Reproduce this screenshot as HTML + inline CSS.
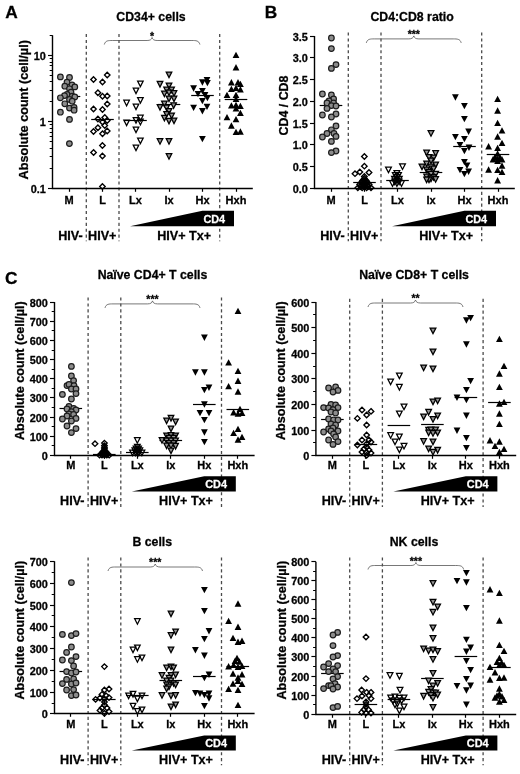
<!DOCTYPE html>
<html><head><meta charset="utf-8"><title>Figure</title>
<style>html,body{margin:0;padding:0;background:#fff}svg{display:block;will-change:transform;filter:blur(0.3px)}text{font-family:"Liberation Sans", sans-serif;stroke:#000;stroke-width:0.28px;paint-order:stroke}text.w{stroke:#fff}</style>
</head><body>
<svg width="520" height="774" viewBox="0 0 520 774">
<rect width="520" height="774" fill="#fff"/>
<text x="5.2" y="18.4" font-size="17.3" font-weight="700">A</text>
<text x="264.8" y="17.9" font-size="17.3" font-weight="700">B</text>
<text x="4.9" y="284.3" font-size="17.3" font-weight="700">C</text>
<line x1="86.3" y1="34.0" x2="86.3" y2="241.2" stroke="#4a4a4a" stroke-width="1.3" stroke-dasharray="3.1 2.8"/>
<line x1="119.0" y1="34.0" x2="119.0" y2="241.2" stroke="#4a4a4a" stroke-width="1.3" stroke-dasharray="3.1 2.8"/>
<line x1="219.7" y1="34.0" x2="219.7" y2="241.2" stroke="#4a4a4a" stroke-width="1.3" stroke-dasharray="3.1 2.8"/>
<path d="M52.5 35.3V188.5H252.8" fill="none" stroke="#000" stroke-width="1.4"/>
<line x1="48.0" y1="55.5" x2="52.5" y2="55.5" stroke="#000" stroke-width="1.15"/>
<text x="45.9" y="60.4" text-anchor="end" font-size="10.9" font-weight="700">10</text>
<line x1="48.0" y1="121.5" x2="52.5" y2="121.5" stroke="#000" stroke-width="1.15"/>
<text x="45.9" y="126.4" text-anchor="end" font-size="10.9" font-weight="700">1</text>
<line x1="48.0" y1="188.5" x2="52.5" y2="188.5" stroke="#000" stroke-width="1.15"/>
<text x="45.9" y="193.4" text-anchor="end" font-size="10.9" font-weight="700">0.1</text>
<line x1="49.7" y1="168.5" x2="52.5" y2="168.5" stroke="#000" stroke-width="1"/>
<line x1="49.7" y1="156.5" x2="52.5" y2="156.5" stroke="#000" stroke-width="1"/>
<line x1="49.7" y1="148.5" x2="52.5" y2="148.5" stroke="#000" stroke-width="1"/>
<line x1="49.7" y1="141.5" x2="52.5" y2="141.5" stroke="#000" stroke-width="1"/>
<line x1="49.7" y1="136.5" x2="52.5" y2="136.5" stroke="#000" stroke-width="1"/>
<line x1="49.7" y1="132.5" x2="52.5" y2="132.5" stroke="#000" stroke-width="1"/>
<line x1="49.7" y1="128.5" x2="52.5" y2="128.5" stroke="#000" stroke-width="1"/>
<line x1="49.7" y1="124.5" x2="52.5" y2="124.5" stroke="#000" stroke-width="1"/>
<line x1="49.7" y1="101.5" x2="52.5" y2="101.5" stroke="#000" stroke-width="1"/>
<line x1="49.7" y1="90.5" x2="52.5" y2="90.5" stroke="#000" stroke-width="1"/>
<line x1="49.7" y1="81.5" x2="52.5" y2="81.5" stroke="#000" stroke-width="1"/>
<line x1="49.7" y1="75.5" x2="52.5" y2="75.5" stroke="#000" stroke-width="1"/>
<line x1="49.7" y1="70.5" x2="52.5" y2="70.5" stroke="#000" stroke-width="1"/>
<line x1="49.7" y1="65.5" x2="52.5" y2="65.5" stroke="#000" stroke-width="1"/>
<line x1="49.7" y1="62.5" x2="52.5" y2="62.5" stroke="#000" stroke-width="1"/>
<line x1="49.7" y1="58.5" x2="52.5" y2="58.5" stroke="#000" stroke-width="1"/>
<line x1="49.7" y1="35.5" x2="52.5" y2="35.5" stroke="#000" stroke-width="1"/>
<line x1="69.5" y1="188.5" x2="69.5" y2="191.8" stroke="#000" stroke-width="1.2"/>
<text x="69.0" y="203.5" text-anchor="middle" font-size="11" font-weight="700">M</text>
<line x1="102.5" y1="188.5" x2="102.5" y2="191.8" stroke="#000" stroke-width="1.2"/>
<text x="102.5" y="203.5" text-anchor="middle" font-size="11" font-weight="700">L</text>
<line x1="135.5" y1="188.5" x2="135.5" y2="191.8" stroke="#000" stroke-width="1.2"/>
<text x="135.5" y="203.5" text-anchor="middle" font-size="11" font-weight="700">Lx</text>
<line x1="169.5" y1="188.5" x2="169.5" y2="191.8" stroke="#000" stroke-width="1.2"/>
<text x="169.0" y="203.5" text-anchor="middle" font-size="11" font-weight="700">Ix</text>
<line x1="202.5" y1="188.5" x2="202.5" y2="191.8" stroke="#000" stroke-width="1.2"/>
<text x="202.5" y="203.5" text-anchor="middle" font-size="11" font-weight="700">Hx</text>
<line x1="236.5" y1="188.5" x2="236.5" y2="191.8" stroke="#000" stroke-width="1.2"/>
<text x="236.0" y="203.5" text-anchor="middle" font-size="11" font-weight="700">Hxh</text>
<text transform="translate(28.0 109.8) rotate(-90)" text-anchor="middle" font-size="12.65" font-weight="700">Absolute count (cell/µl)</text>
<text x="151.0" y="21.3" text-anchor="middle" font-size="12.3" font-weight="700">CD34+ cells</text>
<path d="M104.3 44.5C105.3 40.5 108.3 40.5 112.3 40.5H147.1C150.1 40.5 151.6 39.5 152.1 37.5C152.6 39.5 154.1 40.5 157.1 40.5H191.9C195.9 40.5 198.9 40.5 199.9 44.5" fill="none" stroke="#555" stroke-width="0.8"/>
<text x="152.1" y="39.5" text-anchor="middle" font-size="10.5" font-weight="700">*</text>
<path d="M130.0 226.2L202.4 210.8H234.0V226.2Z" fill="#000"/>
<text x="214.3" y="222.6" text-anchor="middle" font-size="10.9" font-weight="700" fill="#fff" class="w">CD4</text>
<text x="70.5" y="239.6" text-anchor="middle" font-size="12.6" font-weight="700">HIV-</text>
<text x="102.3" y="239.6" text-anchor="middle" font-size="12.6" font-weight="700">HIV+</text>
<text x="184.2" y="239.6" text-anchor="middle" font-size="12.6" font-weight="700">HIV+ Tx+</text>
<line x1="57.7" y1="96.5" x2="80.3" y2="96.5" stroke="#000" stroke-width="1.2"/>
<circle cx="60.4" cy="76.9" r="2.8" fill="#8c8c8c" stroke="#1c1c1c" stroke-width="1.2"/><circle cx="69.5" cy="77.5" r="2.8" fill="#8c8c8c" stroke="#1c1c1c" stroke-width="1.2"/><circle cx="67.0" cy="82.2" r="2.8" fill="#8c8c8c" stroke="#1c1c1c" stroke-width="1.2"/><circle cx="72.0" cy="85.0" r="2.8" fill="#8c8c8c" stroke="#1c1c1c" stroke-width="1.2"/><circle cx="64.8" cy="86.2" r="2.8" fill="#8c8c8c" stroke="#1c1c1c" stroke-width="1.2"/><circle cx="74.8" cy="86.9" r="2.8" fill="#8c8c8c" stroke="#1c1c1c" stroke-width="1.2"/><circle cx="69.5" cy="88.8" r="2.8" fill="#8c8c8c" stroke="#1c1c1c" stroke-width="1.2"/><circle cx="71.0" cy="92.2" r="2.8" fill="#8c8c8c" stroke="#1c1c1c" stroke-width="1.2"/><circle cx="67.0" cy="94.4" r="2.8" fill="#8c8c8c" stroke="#1c1c1c" stroke-width="1.2"/><circle cx="64.5" cy="95.6" r="2.8" fill="#8c8c8c" stroke="#1c1c1c" stroke-width="1.2"/><circle cx="60.4" cy="97.8" r="2.8" fill="#8c8c8c" stroke="#1c1c1c" stroke-width="1.2"/><circle cx="72.2" cy="96.2" r="2.8" fill="#8c8c8c" stroke="#1c1c1c" stroke-width="1.2"/><circle cx="74.8" cy="96.9" r="2.8" fill="#8c8c8c" stroke="#1c1c1c" stroke-width="1.2"/><circle cx="69.5" cy="99.4" r="2.8" fill="#8c8c8c" stroke="#1c1c1c" stroke-width="1.2"/><circle cx="72.2" cy="101.2" r="2.8" fill="#8c8c8c" stroke="#1c1c1c" stroke-width="1.2"/><circle cx="64.8" cy="103.8" r="2.8" fill="#8c8c8c" stroke="#1c1c1c" stroke-width="1.2"/><circle cx="69.5" cy="108.1" r="2.8" fill="#8c8c8c" stroke="#1c1c1c" stroke-width="1.2"/><circle cx="74.1" cy="107.5" r="2.8" fill="#8c8c8c" stroke="#1c1c1c" stroke-width="1.2"/><circle cx="74.1" cy="110.2" r="2.8" fill="#8c8c8c" stroke="#1c1c1c" stroke-width="1.2"/><circle cx="60.4" cy="112.2" r="2.8" fill="#8c8c8c" stroke="#1c1c1c" stroke-width="1.2"/><circle cx="69.5" cy="119.4" r="2.8" fill="#8c8c8c" stroke="#1c1c1c" stroke-width="1.2"/><circle cx="69.4" cy="143.6" r="2.8" fill="#8c8c8c" stroke="#1c1c1c" stroke-width="1.2"/>
<line x1="91.2" y1="119.5" x2="113.8" y2="119.5" stroke="#000" stroke-width="1.2"/>
<path d="M107.2 72.2L110.0 75.0L107.2 77.8L104.5 75.0Z" fill="none" stroke="#000" stroke-width="1.35"/><path d="M93.5 76.7L96.2 79.4L93.5 82.2L90.8 79.4Z" fill="none" stroke="#000" stroke-width="1.35"/><path d="M102.5 79.2L105.2 81.9L102.5 84.7L99.8 81.9Z" fill="none" stroke="#000" stroke-width="1.35"/><path d="M97.9 90.0L100.7 92.8L97.9 95.5L95.2 92.8Z" fill="none" stroke="#000" stroke-width="1.35"/><path d="M102.5 93.5L105.2 96.2L102.5 99.0L99.8 96.2Z" fill="none" stroke="#000" stroke-width="1.35"/><path d="M107.2 93.2L110.0 96.0L107.2 98.8L104.5 96.0Z" fill="none" stroke="#000" stroke-width="1.35"/><path d="M107.2 101.2L110.0 104.0L107.2 106.8L104.5 104.0Z" fill="none" stroke="#000" stroke-width="1.35"/><path d="M93.5 106.2L96.2 109.0L93.5 111.8L90.8 109.0Z" fill="none" stroke="#000" stroke-width="1.35"/><path d="M102.5 106.7L105.2 109.4L102.5 112.2L99.8 109.4Z" fill="none" stroke="#000" stroke-width="1.35"/><path d="M104.8 114.8L107.5 117.5L104.8 120.2L102.0 117.5Z" fill="none" stroke="#000" stroke-width="1.35"/><path d="M97.9 116.2L100.7 119.0L97.9 121.8L95.2 119.0Z" fill="none" stroke="#000" stroke-width="1.35"/><path d="M102.5 119.2L105.2 121.9L102.5 124.7L99.8 121.9Z" fill="none" stroke="#000" stroke-width="1.35"/><path d="M107.2 117.8L110.0 120.6L107.2 123.3L104.5 120.6Z" fill="none" stroke="#000" stroke-width="1.35"/><path d="M104.8 122.8L107.5 125.6L104.8 128.3L102.0 125.6Z" fill="none" stroke="#000" stroke-width="1.35"/><path d="M97.9 125.0L100.7 127.8L97.9 130.5L95.2 127.8Z" fill="none" stroke="#000" stroke-width="1.35"/><path d="M93.5 128.8L96.2 131.5L93.5 134.2L90.8 131.5Z" fill="none" stroke="#000" stroke-width="1.35"/><path d="M107.2 128.2L110.0 131.0L107.2 133.8L104.5 131.0Z" fill="none" stroke="#000" stroke-width="1.35"/><path d="M102.5 131.0L105.2 133.8L102.5 136.5L99.8 133.8Z" fill="none" stroke="#000" stroke-width="1.35"/><path d="M102.4 142.8L105.2 145.6L102.4 148.3L99.7 145.6Z" fill="none" stroke="#000" stroke-width="1.35"/><path d="M93.6 149.7L96.3 152.4L93.6 155.2L90.8 152.4Z" fill="none" stroke="#000" stroke-width="1.35"/><path d="M102.4 153.2L105.2 156.0L102.4 158.8L99.7 156.0Z" fill="none" stroke="#000" stroke-width="1.35"/><path d="M102.4 183.8L105.2 186.6L102.4 189.3L99.7 186.6Z" fill="none" stroke="#000" stroke-width="1.35"/>
<line x1="124.2" y1="120.5" x2="146.8" y2="120.5" stroke="#000" stroke-width="1.2"/>
<path d="M137.6 81.0L143.2 81.0L140.4 86.6Z" fill="none" stroke="#000" stroke-width="1.25"/><path d="M133.2 88.0L138.8 88.0L136.0 93.6Z" fill="none" stroke="#000" stroke-width="1.25"/><path d="M137.6 97.5L143.2 97.5L140.4 103.1Z" fill="none" stroke="#000" stroke-width="1.25"/><path d="M123.8 100.2L129.4 100.2L126.6 105.8Z" fill="none" stroke="#000" stroke-width="1.25"/><path d="M133.2 104.0L138.8 104.0L136.0 109.6Z" fill="none" stroke="#000" stroke-width="1.25"/><path d="M137.6 115.2L143.2 115.2L140.4 120.8Z" fill="none" stroke="#000" stroke-width="1.25"/><path d="M133.2 117.5L138.8 117.5L136.0 123.1Z" fill="none" stroke="#000" stroke-width="1.25"/><path d="M123.8 120.0L129.4 120.0L126.6 125.6Z" fill="none" stroke="#000" stroke-width="1.25"/><path d="M137.6 119.2L143.2 119.2L140.4 124.8Z" fill="none" stroke="#000" stroke-width="1.25"/><path d="M133.2 127.0L138.8 127.0L136.0 132.6Z" fill="none" stroke="#000" stroke-width="1.25"/><path d="M137.6 138.0L143.2 138.0L140.4 143.6Z" fill="none" stroke="#000" stroke-width="1.25"/><path d="M133.2 145.0L138.8 145.0L136.0 150.6Z" fill="none" stroke="#000" stroke-width="1.25"/>
<line x1="157.7" y1="104.5" x2="180.3" y2="104.5" stroke="#000" stroke-width="1.2"/>
<path d="M166.2 72.0L171.8 72.0L169.0 77.6Z" fill="#949494" stroke="#000" stroke-width="1.25"/><path d="M157.2 81.4L162.8 81.4L160.0 87.0Z" fill="#949494" stroke="#000" stroke-width="1.25"/><path d="M166.2 83.0L171.8 83.0L169.0 88.6Z" fill="#949494" stroke="#000" stroke-width="1.25"/><path d="M163.8 87.0L169.4 87.0L166.6 92.6Z" fill="#949494" stroke="#000" stroke-width="1.25"/><path d="M168.8 87.0L174.4 87.0L171.6 92.6Z" fill="#949494" stroke="#000" stroke-width="1.25"/><path d="M161.6 91.0L167.2 91.0L164.4 96.6Z" fill="#949494" stroke="#000" stroke-width="1.25"/><path d="M166.2 90.0L171.8 90.0L169.0 95.6Z" fill="#949494" stroke="#000" stroke-width="1.25"/><path d="M171.2 90.6L176.8 90.6L174.0 96.2Z" fill="#949494" stroke="#000" stroke-width="1.25"/><path d="M166.2 96.0L171.8 96.0L169.0 101.6Z" fill="#949494" stroke="#000" stroke-width="1.25"/><path d="M171.2 96.0L176.8 96.0L174.0 101.6Z" fill="#949494" stroke="#000" stroke-width="1.25"/><path d="M161.6 101.0L167.2 101.0L164.4 106.6Z" fill="#949494" stroke="#000" stroke-width="1.25"/><path d="M157.2 104.5L162.8 104.5L160.0 110.1Z" fill="#949494" stroke="#000" stroke-width="1.25"/><path d="M170.8 102.8L176.4 102.8L173.6 108.4Z" fill="#949494" stroke="#000" stroke-width="1.25"/><path d="M163.8 105.0L169.4 105.0L166.6 110.6Z" fill="#949494" stroke="#000" stroke-width="1.25"/><path d="M166.2 108.5L171.8 108.5L169.0 114.1Z" fill="#949494" stroke="#000" stroke-width="1.25"/><path d="M163.8 111.5L169.4 111.5L166.6 117.1Z" fill="#949494" stroke="#000" stroke-width="1.25"/><path d="M168.8 113.0L174.4 113.0L171.6 118.6Z" fill="#949494" stroke="#000" stroke-width="1.25"/><path d="M161.6 115.3L167.2 115.3L164.4 120.9Z" fill="#949494" stroke="#000" stroke-width="1.25"/><path d="M166.2 118.3L171.8 118.3L169.0 123.9Z" fill="#949494" stroke="#000" stroke-width="1.25"/><path d="M171.2 118.0L176.8 118.0L174.0 123.6Z" fill="#949494" stroke="#000" stroke-width="1.25"/><path d="M157.2 138.6L162.8 138.6L160.0 144.2Z" fill="#949494" stroke="#000" stroke-width="1.25"/><path d="M166.2 138.6L171.8 138.6L169.0 144.2Z" fill="#949494" stroke="#000" stroke-width="1.25"/><path d="M166.2 153.6L171.8 153.6L169.0 159.2Z" fill="#949494" stroke="#000" stroke-width="1.25"/>
<line x1="191.2" y1="95.5" x2="213.8" y2="95.5" stroke="#000" stroke-width="1.2"/>
<path d="M203.6 76.9L210.4 76.9L207.0 83.3Z" fill="#000"/><path d="M199.0 79.3L205.8 79.3L202.4 85.7Z" fill="#000"/><path d="M204.0 79.9L210.8 79.9L207.4 86.3Z" fill="#000"/><path d="M190.2 85.3L197.0 85.3L193.6 91.7Z" fill="#000"/><path d="M199.0 87.9L205.8 87.9L202.4 94.3Z" fill="#000"/><path d="M194.6 90.9L201.4 90.9L198.0 97.3Z" fill="#000"/><path d="M201.6 91.9L208.4 91.9L205.0 98.3Z" fill="#000"/><path d="M204.0 94.9L210.8 94.9L207.4 101.3Z" fill="#000"/><path d="M199.0 97.9L205.8 97.9L202.4 104.3Z" fill="#000"/><path d="M190.2 104.7L197.0 104.7L193.6 111.1Z" fill="#000"/><path d="M203.6 103.7L210.4 103.7L207.0 110.1Z" fill="#000"/><path d="M199.0 108.1L205.8 108.1L202.4 114.5Z" fill="#000"/><path d="M199.0 135.9L205.8 135.9L202.4 142.3Z" fill="#000"/>
<line x1="224.7" y1="99.5" x2="247.3" y2="99.5" stroke="#000" stroke-width="1.2"/>
<path d="M232.6 58.1L239.4 58.1L236.0 51.7Z" fill="#000"/><path d="M232.6 70.5L239.4 70.5L236.0 64.1Z" fill="#000"/><path d="M228.0 85.5L234.8 85.5L231.4 79.1Z" fill="#000"/><path d="M234.6 85.5L241.4 85.5L238.0 79.1Z" fill="#000"/><path d="M237.0 87.1L243.8 87.1L240.4 80.7Z" fill="#000"/><path d="M228.0 92.1L234.8 92.1L231.4 85.7Z" fill="#000"/><path d="M232.6 91.1L239.4 91.1L236.0 84.7Z" fill="#000"/><path d="M237.0 92.5L243.8 92.5L240.4 86.1Z" fill="#000"/><path d="M223.6 98.1L230.4 98.1L227.0 91.7Z" fill="#000"/><path d="M232.6 98.1L239.4 98.1L236.0 91.7Z" fill="#000"/><path d="M232.6 102.1L239.4 102.1L236.0 95.7Z" fill="#000"/><path d="M228.0 108.6L234.8 108.6L231.4 102.2Z" fill="#000"/><path d="M232.6 108.1L239.4 108.1L236.0 101.7Z" fill="#000"/><path d="M237.0 109.1L243.8 109.1L240.4 102.7Z" fill="#000"/><path d="M232.6 111.6L239.4 111.6L236.0 105.2Z" fill="#000"/><path d="M237.0 116.1L243.8 116.1L240.4 109.7Z" fill="#000"/><path d="M223.6 120.3L230.4 120.3L227.0 113.9Z" fill="#000"/><path d="M232.6 122.3L239.4 122.3L236.0 115.9Z" fill="#000"/><path d="M228.0 128.7L234.8 128.7L231.4 122.3Z" fill="#000"/><path d="M232.6 135.1L239.4 135.1L236.0 128.7Z" fill="#000"/><path d="M237.0 134.7L243.8 134.7L240.4 128.3Z" fill="#000"/>
<line x1="348.3" y1="32.5" x2="348.3" y2="241.2" stroke="#4a4a4a" stroke-width="1.3" stroke-dasharray="3.1 2.8"/>
<line x1="381.0" y1="32.5" x2="381.0" y2="241.2" stroke="#4a4a4a" stroke-width="1.3" stroke-dasharray="3.1 2.8"/>
<line x1="481.7" y1="32.5" x2="481.7" y2="241.2" stroke="#4a4a4a" stroke-width="1.3" stroke-dasharray="3.1 2.8"/>
<path d="M314.5 36.0V188.5H514.8" fill="none" stroke="#000" stroke-width="1.4"/>
<line x1="310.0" y1="188.5" x2="314.5" y2="188.5" stroke="#000" stroke-width="1.15"/>
<text x="307.9" y="193.4" text-anchor="end" font-size="10.9" font-weight="700">0.0</text>
<line x1="310.0" y1="166.5" x2="314.5" y2="166.5" stroke="#000" stroke-width="1.15"/>
<text x="307.9" y="171.4" text-anchor="end" font-size="10.9" font-weight="700">0.5</text>
<line x1="310.0" y1="144.5" x2="314.5" y2="144.5" stroke="#000" stroke-width="1.15"/>
<text x="307.9" y="149.4" text-anchor="end" font-size="10.9" font-weight="700">1.0</text>
<line x1="310.0" y1="123.5" x2="314.5" y2="123.5" stroke="#000" stroke-width="1.15"/>
<text x="307.9" y="128.4" text-anchor="end" font-size="10.9" font-weight="700">1.5</text>
<line x1="310.0" y1="101.5" x2="314.5" y2="101.5" stroke="#000" stroke-width="1.15"/>
<text x="307.9" y="106.4" text-anchor="end" font-size="10.9" font-weight="700">2.0</text>
<line x1="310.0" y1="79.5" x2="314.5" y2="79.5" stroke="#000" stroke-width="1.15"/>
<text x="307.9" y="84.4" text-anchor="end" font-size="10.9" font-weight="700">2.5</text>
<line x1="310.0" y1="57.5" x2="314.5" y2="57.5" stroke="#000" stroke-width="1.15"/>
<text x="307.9" y="62.4" text-anchor="end" font-size="10.9" font-weight="700">3.0</text>
<line x1="310.0" y1="36.5" x2="314.5" y2="36.5" stroke="#000" stroke-width="1.15"/>
<text x="307.9" y="41.4" text-anchor="end" font-size="10.9" font-weight="700">3.5</text>
<line x1="331.5" y1="188.5" x2="331.5" y2="191.8" stroke="#000" stroke-width="1.2"/>
<text x="331.0" y="203.5" text-anchor="middle" font-size="11" font-weight="700">M</text>
<line x1="364.5" y1="188.5" x2="364.5" y2="191.8" stroke="#000" stroke-width="1.2"/>
<text x="364.5" y="203.5" text-anchor="middle" font-size="11" font-weight="700">L</text>
<line x1="397.5" y1="188.5" x2="397.5" y2="191.8" stroke="#000" stroke-width="1.2"/>
<text x="397.5" y="203.5" text-anchor="middle" font-size="11" font-weight="700">Lx</text>
<line x1="431.5" y1="188.5" x2="431.5" y2="191.8" stroke="#000" stroke-width="1.2"/>
<text x="431.0" y="203.5" text-anchor="middle" font-size="11" font-weight="700">Ix</text>
<line x1="464.5" y1="188.5" x2="464.5" y2="191.8" stroke="#000" stroke-width="1.2"/>
<text x="464.5" y="203.5" text-anchor="middle" font-size="11" font-weight="700">Hx</text>
<line x1="498.5" y1="188.5" x2="498.5" y2="191.8" stroke="#000" stroke-width="1.2"/>
<text x="498.0" y="203.5" text-anchor="middle" font-size="11" font-weight="700">Hxh</text>
<text transform="translate(287.9 105.5) rotate(-90)" text-anchor="middle" font-size="12.4" font-weight="700">CD4 / CD8</text>
<text x="412.1" y="21.3" text-anchor="middle" font-size="12.3" font-weight="700">CD4:CD8 ratio</text>
<path d="M366.3 42.9C367.3 38.9 370.3 38.9 374.3 38.9H408.8C411.8 38.9 413.2 37.9 413.8 35.9C414.2 37.9 415.8 38.9 418.8 38.9H453.2C457.2 38.9 460.2 38.9 461.2 42.9" fill="none" stroke="#555" stroke-width="0.8"/>
<text x="413.8" y="37.9" text-anchor="middle" font-size="10.5" font-weight="700">***</text>
<path d="M392.0 226.2L464.4 210.8H496.0V226.2Z" fill="#000"/>
<text x="476.3" y="222.6" text-anchor="middle" font-size="10.9" font-weight="700" fill="#fff" class="w">CD4</text>
<text x="332.5" y="239.6" text-anchor="middle" font-size="12.6" font-weight="700">HIV-</text>
<text x="364.3" y="239.6" text-anchor="middle" font-size="12.6" font-weight="700">HIV+</text>
<text x="446.2" y="239.6" text-anchor="middle" font-size="12.6" font-weight="700">HIV+ Tx+</text>
<line x1="319.7" y1="105.5" x2="342.3" y2="105.5" stroke="#000" stroke-width="1.2"/>
<circle cx="331.4" cy="38.0" r="2.8" fill="#8c8c8c" stroke="#1c1c1c" stroke-width="1.2"/><circle cx="331.4" cy="48.6" r="2.8" fill="#8c8c8c" stroke="#1c1c1c" stroke-width="1.2"/><circle cx="336.0" cy="64.6" r="2.8" fill="#8c8c8c" stroke="#1c1c1c" stroke-width="1.2"/><circle cx="331.4" cy="68.4" r="2.8" fill="#8c8c8c" stroke="#1c1c1c" stroke-width="1.2"/><circle cx="322.4" cy="94.0" r="2.8" fill="#8c8c8c" stroke="#1c1c1c" stroke-width="1.2"/><circle cx="331.4" cy="95.0" r="2.8" fill="#8c8c8c" stroke="#1c1c1c" stroke-width="1.2"/><circle cx="333.6" cy="99.0" r="2.8" fill="#8c8c8c" stroke="#1c1c1c" stroke-width="1.2"/><circle cx="329.0" cy="101.0" r="2.8" fill="#8c8c8c" stroke="#1c1c1c" stroke-width="1.2"/><circle cx="327.0" cy="103.0" r="2.8" fill="#8c8c8c" stroke="#1c1c1c" stroke-width="1.2"/><circle cx="333.6" cy="103.0" r="2.8" fill="#8c8c8c" stroke="#1c1c1c" stroke-width="1.2"/><circle cx="331.4" cy="105.6" r="2.8" fill="#8c8c8c" stroke="#1c1c1c" stroke-width="1.2"/><circle cx="336.0" cy="106.0" r="2.8" fill="#8c8c8c" stroke="#1c1c1c" stroke-width="1.2"/><circle cx="327.0" cy="108.4" r="2.8" fill="#8c8c8c" stroke="#1c1c1c" stroke-width="1.2"/><circle cx="322.4" cy="115.0" r="2.8" fill="#8c8c8c" stroke="#1c1c1c" stroke-width="1.2"/><circle cx="336.0" cy="114.0" r="2.8" fill="#8c8c8c" stroke="#1c1c1c" stroke-width="1.2"/><circle cx="331.4" cy="117.0" r="2.8" fill="#8c8c8c" stroke="#1c1c1c" stroke-width="1.2"/><circle cx="336.0" cy="126.0" r="2.8" fill="#8c8c8c" stroke="#1c1c1c" stroke-width="1.2"/><circle cx="331.4" cy="129.8" r="2.8" fill="#8c8c8c" stroke="#1c1c1c" stroke-width="1.2"/><circle cx="327.0" cy="133.5" r="2.8" fill="#8c8c8c" stroke="#1c1c1c" stroke-width="1.2"/><circle cx="334.0" cy="133.5" r="2.8" fill="#8c8c8c" stroke="#1c1c1c" stroke-width="1.2"/><circle cx="322.4" cy="137.0" r="2.8" fill="#8c8c8c" stroke="#1c1c1c" stroke-width="1.2"/><circle cx="336.0" cy="136.4" r="2.8" fill="#8c8c8c" stroke="#1c1c1c" stroke-width="1.2"/><circle cx="331.4" cy="141.4" r="2.8" fill="#8c8c8c" stroke="#1c1c1c" stroke-width="1.2"/><circle cx="336.0" cy="151.0" r="2.8" fill="#8c8c8c" stroke="#1c1c1c" stroke-width="1.2"/><circle cx="331.4" cy="152.6" r="2.8" fill="#8c8c8c" stroke="#1c1c1c" stroke-width="1.2"/>
<line x1="353.2" y1="182.5" x2="375.8" y2="182.5" stroke="#000" stroke-width="1.2"/>
<path d="M364.4 153.8L367.1 156.6L364.4 159.3L361.6 156.6Z" fill="none" stroke="#000" stroke-width="1.35"/><path d="M364.4 163.4L367.1 166.2L364.4 168.9L361.6 166.2Z" fill="none" stroke="#000" stroke-width="1.35"/><path d="M355.0 170.9L357.8 173.7L355.0 176.4L352.2 173.7Z" fill="none" stroke="#000" stroke-width="1.35"/><path d="M359.8 169.2L362.6 171.9L359.8 174.7L357.1 171.9Z" fill="none" stroke="#000" stroke-width="1.35"/><path d="M369.0 169.8L371.8 172.5L369.0 175.2L366.2 172.5Z" fill="none" stroke="#000" stroke-width="1.35"/><path d="M364.4 173.8L367.1 176.5L364.4 179.2L361.6 176.5Z" fill="none" stroke="#000" stroke-width="1.35"/><path d="M364.4 175.8L367.1 178.5L364.4 181.2L361.6 178.5Z" fill="none" stroke="#000" stroke-width="1.35"/><path d="M362.6 177.8L365.4 180.5L362.6 183.2L359.9 180.5Z" fill="none" stroke="#000" stroke-width="1.35"/><path d="M366.2 177.8L368.9 180.5L366.2 183.2L363.4 180.5Z" fill="none" stroke="#000" stroke-width="1.35"/><path d="M361.4 179.8L364.1 182.5L361.4 185.2L358.6 182.5Z" fill="none" stroke="#000" stroke-width="1.35"/><path d="M364.4 179.8L367.1 182.5L364.4 185.2L361.6 182.5Z" fill="none" stroke="#000" stroke-width="1.35"/><path d="M367.4 179.8L370.1 182.5L367.4 185.2L364.6 182.5Z" fill="none" stroke="#000" stroke-width="1.35"/><path d="M359.6 181.8L362.4 184.5L359.6 187.2L356.9 184.5Z" fill="none" stroke="#000" stroke-width="1.35"/><path d="M362.8 181.8L365.6 184.5L362.8 187.2L360.1 184.5Z" fill="none" stroke="#000" stroke-width="1.35"/><path d="M366.0 181.8L368.8 184.5L366.0 187.2L363.2 184.5Z" fill="none" stroke="#000" stroke-width="1.35"/><path d="M369.2 181.8L371.9 184.5L369.2 187.2L366.4 184.5Z" fill="none" stroke="#000" stroke-width="1.35"/><path d="M360.6 183.7L363.4 186.4L360.6 189.2L357.9 186.4Z" fill="none" stroke="#000" stroke-width="1.35"/><path d="M364.4 183.7L367.1 186.4L364.4 189.2L361.6 186.4Z" fill="none" stroke="#000" stroke-width="1.35"/><path d="M368.2 183.7L370.9 186.4L368.2 189.2L365.4 186.4Z" fill="none" stroke="#000" stroke-width="1.35"/><path d="M364.4 177.8L367.1 180.5L364.4 183.2L361.6 180.5Z" fill="none" stroke="#000" stroke-width="1.35"/><path d="M363.0 180.8L365.8 183.5L363.0 186.2L360.2 183.5Z" fill="none" stroke="#000" stroke-width="1.35"/><path d="M365.8 180.8L368.6 183.5L365.8 186.2L363.1 183.5Z" fill="none" stroke="#000" stroke-width="1.35"/><path d="M361.2 182.8L363.9 185.5L361.2 188.2L358.4 185.5Z" fill="none" stroke="#000" stroke-width="1.35"/><path d="M364.4 182.8L367.1 185.5L364.4 188.2L361.6 185.5Z" fill="none" stroke="#000" stroke-width="1.35"/><path d="M367.6 182.8L370.4 185.5L367.6 188.2L364.9 185.5Z" fill="none" stroke="#000" stroke-width="1.35"/><path d="M364.4 181.8L367.1 184.5L364.4 187.2L361.6 184.5Z" fill="none" stroke="#000" stroke-width="1.35"/><path d="M357.8 185.1L360.6 187.8L357.8 190.6L355.1 187.8Z" fill="none" stroke="#000" stroke-width="1.35"/><path d="M362.2 185.1L364.9 187.8L362.2 190.6L359.4 187.8Z" fill="none" stroke="#000" stroke-width="1.35"/><path d="M366.6 185.1L369.4 187.8L366.6 190.6L363.9 187.8Z" fill="none" stroke="#000" stroke-width="1.35"/><path d="M371.0 185.1L373.8 187.8L371.0 190.6L368.2 187.8Z" fill="none" stroke="#000" stroke-width="1.35"/>
<line x1="386.2" y1="180.5" x2="408.8" y2="180.5" stroke="#000" stroke-width="1.2"/>
<path d="M385.6 167.0L391.4 167.0L388.5 172.6Z" fill="none" stroke="#000" stroke-width="1.25"/><path d="M399.6 163.9L405.4 163.9L402.5 169.5Z" fill="none" stroke="#000" stroke-width="1.25"/><path d="M394.0 170.5L399.8 170.5L396.9 176.1Z" fill="none" stroke="#000" stroke-width="1.25"/><path d="M392.4 172.5L398.2 172.5L395.3 178.1Z" fill="none" stroke="#000" stroke-width="1.25"/><path d="M395.6 172.5L401.4 172.5L398.5 178.1Z" fill="none" stroke="#000" stroke-width="1.25"/><path d="M394.0 174.5L399.8 174.5L396.9 180.1Z" fill="none" stroke="#000" stroke-width="1.25"/><path d="M391.6 176.3L397.4 176.3L394.5 181.9Z" fill="none" stroke="#000" stroke-width="1.25"/><path d="M396.4 176.3L402.2 176.3L399.3 181.9Z" fill="none" stroke="#000" stroke-width="1.25"/><path d="M394.0 177.8L399.8 177.8L396.9 183.4Z" fill="none" stroke="#000" stroke-width="1.25"/><path d="M391.8 179.0L397.6 179.0L394.7 184.6Z" fill="none" stroke="#000" stroke-width="1.25"/><path d="M396.2 179.0L402.0 179.0L399.1 184.6Z" fill="none" stroke="#000" stroke-width="1.25"/><path d="M389.6 180.7L395.4 180.7L392.5 186.3Z" fill="none" stroke="#000" stroke-width="1.25"/><path d="M394.0 180.7L399.8 180.7L396.9 186.3Z" fill="none" stroke="#000" stroke-width="1.25"/><path d="M398.6 180.7L404.4 180.7L401.5 186.3Z" fill="none" stroke="#000" stroke-width="1.25"/>
<line x1="419.7" y1="172.5" x2="442.3" y2="172.5" stroke="#000" stroke-width="1.2"/>
<path d="M428.1 130.6L433.9 130.6L431.0 136.2Z" fill="#949494" stroke="#000" stroke-width="1.25"/><path d="M423.8 150.0L429.5 150.0L426.6 155.6Z" fill="#949494" stroke="#000" stroke-width="1.25"/><path d="M432.8 150.6L438.5 150.6L435.6 156.2Z" fill="#949494" stroke="#000" stroke-width="1.25"/><path d="M426.1 154.6L431.9 154.6L429.0 160.2Z" fill="#949494" stroke="#000" stroke-width="1.25"/><path d="M430.8 155.0L436.5 155.0L433.6 160.6Z" fill="#949494" stroke="#000" stroke-width="1.25"/><path d="M428.1 158.0L433.9 158.0L431.0 163.6Z" fill="#949494" stroke="#000" stroke-width="1.25"/><path d="M423.8 161.0L429.5 161.0L426.6 166.6Z" fill="#949494" stroke="#000" stroke-width="1.25"/><path d="M432.8 162.0L438.5 162.0L435.6 167.6Z" fill="#949494" stroke="#000" stroke-width="1.25"/><path d="M419.1 164.0L424.9 164.0L422.0 169.6Z" fill="#949494" stroke="#000" stroke-width="1.25"/><path d="M428.1 164.0L433.9 164.0L431.0 169.6Z" fill="#949494" stroke="#000" stroke-width="1.25"/><path d="M430.8 166.0L436.5 166.0L433.6 171.6Z" fill="#949494" stroke="#000" stroke-width="1.25"/><path d="M423.8 167.0L429.5 167.0L426.6 172.6Z" fill="#949494" stroke="#000" stroke-width="1.25"/><path d="M426.1 169.4L431.9 169.4L429.0 175.0Z" fill="#949494" stroke="#000" stroke-width="1.25"/><path d="M428.1 171.4L433.9 171.4L431.0 177.0Z" fill="#949494" stroke="#000" stroke-width="1.25"/><path d="M432.8 171.4L438.5 171.4L435.6 177.0Z" fill="#949494" stroke="#000" stroke-width="1.25"/><path d="M423.8 174.0L429.5 174.0L426.6 179.6Z" fill="#949494" stroke="#000" stroke-width="1.25"/><path d="M430.8 174.6L436.5 174.6L433.6 180.2Z" fill="#949494" stroke="#000" stroke-width="1.25"/><path d="M428.1 176.0L433.9 176.0L431.0 181.6Z" fill="#949494" stroke="#000" stroke-width="1.25"/><path d="M426.1 177.0L431.9 177.0L429.0 182.6Z" fill="#949494" stroke="#000" stroke-width="1.25"/><path d="M432.8 176.6L438.5 176.6L435.6 182.2Z" fill="#949494" stroke="#000" stroke-width="1.25"/><path d="M423.8 177.0L429.5 177.0L426.6 182.6Z" fill="#949494" stroke="#000" stroke-width="1.25"/>
<line x1="453.2" y1="146.5" x2="475.8" y2="146.5" stroke="#000" stroke-width="1.2"/>
<path d="M452.0 94.3L458.8 94.3L455.4 100.7Z" fill="#000"/><path d="M461.0 102.9L467.8 102.9L464.4 109.3Z" fill="#000"/><path d="M461.0 115.9L467.8 115.9L464.4 122.3Z" fill="#000"/><path d="M465.2 128.5L472.0 128.5L468.6 134.9Z" fill="#000"/><path d="M452.0 133.9L458.8 133.9L455.4 140.3Z" fill="#000"/><path d="M461.0 135.9L467.8 135.9L464.4 142.3Z" fill="#000"/><path d="M456.6 141.9L463.4 141.9L460.0 148.3Z" fill="#000"/><path d="M465.6 144.5L472.4 144.5L469.0 150.9Z" fill="#000"/><path d="M461.0 147.9L467.8 147.9L464.4 154.3Z" fill="#000"/><path d="M461.0 158.9L467.8 158.9L464.4 165.3Z" fill="#000"/><path d="M463.6 162.5L470.4 162.5L467.0 168.9Z" fill="#000"/><path d="M456.6 166.9L463.4 166.9L460.0 173.3Z" fill="#000"/><path d="M465.2 168.5L472.0 168.5L468.6 174.9Z" fill="#000"/><path d="M461.0 170.9L467.8 170.9L464.4 177.3Z" fill="#000"/>
<line x1="486.7" y1="154.5" x2="509.3" y2="154.5" stroke="#000" stroke-width="1.2"/>
<path d="M494.2 102.1L501.0 102.1L497.6 95.7Z" fill="#000"/><path d="M494.2 113.7L501.0 113.7L497.6 107.3Z" fill="#000"/><path d="M494.2 126.1L501.0 126.1L497.6 119.7Z" fill="#000"/><path d="M498.6 133.6L505.4 133.6L502.0 127.2Z" fill="#000"/><path d="M494.2 139.7L501.0 139.7L497.6 133.3Z" fill="#000"/><path d="M498.6 146.1L505.4 146.1L502.0 139.7Z" fill="#000"/><path d="M485.2 149.5L492.0 149.5L488.6 143.1Z" fill="#000"/><path d="M494.2 151.1L501.0 151.1L497.6 144.7Z" fill="#000"/><path d="M494.2 156.7L501.0 156.7L497.6 150.3Z" fill="#000"/><path d="M491.6 160.1L498.4 160.1L495.0 153.7Z" fill="#000"/><path d="M496.6 160.5L503.4 160.5L500.0 154.1Z" fill="#000"/><path d="M494.2 162.1L501.0 162.1L497.6 155.7Z" fill="#000"/><path d="M489.6 162.5L496.4 162.5L493.0 156.1Z" fill="#000"/><path d="M498.6 162.5L505.4 162.5L502.0 156.1Z" fill="#000"/><path d="M494.2 164.1L501.0 164.1L497.6 157.7Z" fill="#000"/><path d="M498.6 168.7L505.4 168.7L502.0 162.3Z" fill="#000"/><path d="M485.2 172.7L492.0 172.7L488.6 166.3Z" fill="#000"/><path d="M494.2 173.1L501.0 173.1L497.6 166.7Z" fill="#000"/><path d="M498.6 175.1L505.4 175.1L502.0 168.7Z" fill="#000"/><path d="M494.2 183.5L501.0 183.5L497.6 177.1Z" fill="#000"/>
<line x1="88.1" y1="297.5" x2="88.1" y2="506.9" stroke="#4a4a4a" stroke-width="1.3" stroke-dasharray="3.1 2.8"/>
<line x1="120.8" y1="297.5" x2="120.8" y2="506.9" stroke="#4a4a4a" stroke-width="1.3" stroke-dasharray="3.1 2.8"/>
<line x1="221.5" y1="297.5" x2="221.5" y2="506.9" stroke="#4a4a4a" stroke-width="1.3" stroke-dasharray="3.1 2.8"/>
<path d="M54.5 302.1V455.5H254.6" fill="none" stroke="#000" stroke-width="1.4"/>
<line x1="50.0" y1="455.5" x2="54.5" y2="455.5" stroke="#000" stroke-width="1.15"/>
<text x="47.9" y="460.4" text-anchor="end" font-size="10.9" font-weight="700">0</text>
<line x1="50.0" y1="436.5" x2="54.5" y2="436.5" stroke="#000" stroke-width="1.15"/>
<text x="47.9" y="441.4" text-anchor="end" font-size="10.9" font-weight="700">100</text>
<line x1="50.0" y1="417.5" x2="54.5" y2="417.5" stroke="#000" stroke-width="1.15"/>
<text x="47.9" y="422.4" text-anchor="end" font-size="10.9" font-weight="700">200</text>
<line x1="50.0" y1="397.5" x2="54.5" y2="397.5" stroke="#000" stroke-width="1.15"/>
<text x="47.9" y="402.4" text-anchor="end" font-size="10.9" font-weight="700">300</text>
<line x1="50.0" y1="378.5" x2="54.5" y2="378.5" stroke="#000" stroke-width="1.15"/>
<text x="47.9" y="383.4" text-anchor="end" font-size="10.9" font-weight="700">400</text>
<line x1="50.0" y1="359.5" x2="54.5" y2="359.5" stroke="#000" stroke-width="1.15"/>
<text x="47.9" y="364.4" text-anchor="end" font-size="10.9" font-weight="700">500</text>
<line x1="50.0" y1="340.5" x2="54.5" y2="340.5" stroke="#000" stroke-width="1.15"/>
<text x="47.9" y="345.4" text-anchor="end" font-size="10.9" font-weight="700">600</text>
<line x1="50.0" y1="321.5" x2="54.5" y2="321.5" stroke="#000" stroke-width="1.15"/>
<text x="47.9" y="326.4" text-anchor="end" font-size="10.9" font-weight="700">700</text>
<line x1="50.0" y1="302.5" x2="54.5" y2="302.5" stroke="#000" stroke-width="1.15"/>
<text x="47.9" y="307.4" text-anchor="end" font-size="10.9" font-weight="700">800</text>
<line x1="51.7" y1="445.5" x2="54.5" y2="445.5" stroke="#000" stroke-width="1"/>
<line x1="51.7" y1="426.5" x2="54.5" y2="426.5" stroke="#000" stroke-width="1"/>
<line x1="51.7" y1="407.5" x2="54.5" y2="407.5" stroke="#000" stroke-width="1"/>
<line x1="51.7" y1="388.5" x2="54.5" y2="388.5" stroke="#000" stroke-width="1"/>
<line x1="51.7" y1="369.5" x2="54.5" y2="369.5" stroke="#000" stroke-width="1"/>
<line x1="51.7" y1="350.5" x2="54.5" y2="350.5" stroke="#000" stroke-width="1"/>
<line x1="51.7" y1="330.5" x2="54.5" y2="330.5" stroke="#000" stroke-width="1"/>
<line x1="51.7" y1="311.5" x2="54.5" y2="311.5" stroke="#000" stroke-width="1"/>
<line x1="70.5" y1="455.5" x2="70.5" y2="458.8" stroke="#000" stroke-width="1.2"/>
<text x="70.8" y="468.8" text-anchor="middle" font-size="11" font-weight="700">M</text>
<line x1="104.5" y1="455.5" x2="104.5" y2="458.8" stroke="#000" stroke-width="1.2"/>
<text x="104.3" y="468.8" text-anchor="middle" font-size="11" font-weight="700">L</text>
<line x1="137.5" y1="455.5" x2="137.5" y2="458.8" stroke="#000" stroke-width="1.2"/>
<text x="137.3" y="468.8" text-anchor="middle" font-size="11" font-weight="700">Lx</text>
<line x1="170.5" y1="455.5" x2="170.5" y2="458.8" stroke="#000" stroke-width="1.2"/>
<text x="170.8" y="468.8" text-anchor="middle" font-size="11" font-weight="700">Ix</text>
<line x1="204.5" y1="455.5" x2="204.5" y2="458.8" stroke="#000" stroke-width="1.2"/>
<text x="204.3" y="468.8" text-anchor="middle" font-size="11" font-weight="700">Hx</text>
<line x1="237.5" y1="455.5" x2="237.5" y2="458.8" stroke="#000" stroke-width="1.2"/>
<text x="237.8" y="468.8" text-anchor="middle" font-size="11" font-weight="700">Hxh</text>
<text transform="translate(24.0 370.7) rotate(-90)" text-anchor="middle" font-size="12.6" font-weight="700">Absolute count (cell/µl)</text>
<text x="152.5" y="278.8" text-anchor="middle" font-size="12.3" font-weight="700">Naïve CD4+ T cells</text>
<path d="M105.0 307.9C106.0 303.9 109.0 303.9 113.0 303.9H147.5C150.5 303.9 152.0 302.9 152.5 300.9C153.0 302.9 154.5 303.9 157.5 303.9H192.0C196.0 303.9 199.0 303.9 200.0 307.9" fill="none" stroke="#555" stroke-width="0.8"/>
<text x="152.5" y="302.9" text-anchor="middle" font-size="10.5" font-weight="700">***</text>
<path d="M131.8 491.5L204.2 476.2H235.8V491.5Z" fill="#000"/>
<text x="216.1" y="487.9" text-anchor="middle" font-size="10.9" font-weight="700" fill="#fff" class="w">CD4</text>
<text x="72.3" y="504.7" text-anchor="middle" font-size="12.6" font-weight="700">HIV-</text>
<text x="104.1" y="504.7" text-anchor="middle" font-size="12.6" font-weight="700">HIV+</text>
<text x="186.0" y="504.7" text-anchor="middle" font-size="12.6" font-weight="700">HIV+ Tx+</text>
<line x1="59.5" y1="408.5" x2="82.1" y2="408.5" stroke="#000" stroke-width="1.2"/>
<circle cx="71.4" cy="366.4" r="2.8" fill="#8c8c8c" stroke="#1c1c1c" stroke-width="1.2"/><circle cx="71.4" cy="376.0" r="2.8" fill="#8c8c8c" stroke="#1c1c1c" stroke-width="1.2"/><circle cx="73.6" cy="380.6" r="2.8" fill="#8c8c8c" stroke="#1c1c1c" stroke-width="1.2"/><circle cx="67.0" cy="385.6" r="2.8" fill="#8c8c8c" stroke="#1c1c1c" stroke-width="1.2"/><circle cx="69.0" cy="384.4" r="2.8" fill="#8c8c8c" stroke="#1c1c1c" stroke-width="1.2"/><circle cx="74.0" cy="385.6" r="2.8" fill="#8c8c8c" stroke="#1c1c1c" stroke-width="1.2"/><circle cx="71.4" cy="389.0" r="2.8" fill="#8c8c8c" stroke="#1c1c1c" stroke-width="1.2"/><circle cx="76.0" cy="389.0" r="2.8" fill="#8c8c8c" stroke="#1c1c1c" stroke-width="1.2"/><circle cx="62.4" cy="394.4" r="2.8" fill="#8c8c8c" stroke="#1c1c1c" stroke-width="1.2"/><circle cx="76.0" cy="393.6" r="2.8" fill="#8c8c8c" stroke="#1c1c1c" stroke-width="1.2"/><circle cx="71.4" cy="399.0" r="2.8" fill="#8c8c8c" stroke="#1c1c1c" stroke-width="1.2"/><circle cx="69.0" cy="406.4" r="2.8" fill="#8c8c8c" stroke="#1c1c1c" stroke-width="1.2"/><circle cx="67.0" cy="409.0" r="2.8" fill="#8c8c8c" stroke="#1c1c1c" stroke-width="1.2"/><circle cx="73.6" cy="408.4" r="2.8" fill="#8c8c8c" stroke="#1c1c1c" stroke-width="1.2"/><circle cx="76.0" cy="410.0" r="2.8" fill="#8c8c8c" stroke="#1c1c1c" stroke-width="1.2"/><circle cx="71.4" cy="411.6" r="2.8" fill="#8c8c8c" stroke="#1c1c1c" stroke-width="1.2"/><circle cx="69.0" cy="414.0" r="2.8" fill="#8c8c8c" stroke="#1c1c1c" stroke-width="1.2"/><circle cx="73.6" cy="414.4" r="2.8" fill="#8c8c8c" stroke="#1c1c1c" stroke-width="1.2"/><circle cx="67.0" cy="416.0" r="2.8" fill="#8c8c8c" stroke="#1c1c1c" stroke-width="1.2"/><circle cx="62.4" cy="419.0" r="2.8" fill="#8c8c8c" stroke="#1c1c1c" stroke-width="1.2"/><circle cx="76.0" cy="418.4" r="2.8" fill="#8c8c8c" stroke="#1c1c1c" stroke-width="1.2"/><circle cx="71.4" cy="421.0" r="2.8" fill="#8c8c8c" stroke="#1c1c1c" stroke-width="1.2"/><circle cx="67.0" cy="426.0" r="2.8" fill="#8c8c8c" stroke="#1c1c1c" stroke-width="1.2"/><circle cx="76.0" cy="428.6" r="2.8" fill="#8c8c8c" stroke="#1c1c1c" stroke-width="1.2"/><circle cx="71.4" cy="432.6" r="2.8" fill="#8c8c8c" stroke="#1c1c1c" stroke-width="1.2"/>
<line x1="93.0" y1="454.5" x2="115.6" y2="454.5" stroke="#000" stroke-width="1.2"/>
<path d="M95.0 440.9L97.8 443.7L95.0 446.4L92.2 443.7Z" fill="none" stroke="#000" stroke-width="1.35"/><path d="M104.4 440.4L107.2 443.1L104.4 445.9L101.7 443.1Z" fill="none" stroke="#000" stroke-width="1.35"/><path d="M104.4 442.9L107.2 445.6L104.4 448.4L101.7 445.6Z" fill="none" stroke="#000" stroke-width="1.35"/><path d="M104.4 444.4L107.2 447.2L104.4 449.9L101.7 447.2Z" fill="none" stroke="#000" stroke-width="1.35"/><path d="M104.4 446.1L107.2 448.8L104.4 451.6L101.7 448.8Z" fill="none" stroke="#000" stroke-width="1.35"/><path d="M104.4 447.6L107.2 450.4L104.4 453.1L101.7 450.4Z" fill="none" stroke="#000" stroke-width="1.35"/><path d="M104.4 449.2L107.2 452.0L104.4 454.8L101.7 452.0Z" fill="none" stroke="#000" stroke-width="1.35"/><path d="M104.4 450.9L107.2 453.6L104.4 456.4L101.7 453.6Z" fill="none" stroke="#000" stroke-width="1.35"/><path d="M103.0 448.8L105.8 451.5L103.0 454.2L100.2 451.5Z" fill="none" stroke="#000" stroke-width="1.35"/><path d="M105.8 448.8L108.5 451.5L105.8 454.2L103.0 451.5Z" fill="none" stroke="#000" stroke-width="1.35"/><path d="M102.4 450.9L105.2 453.6L102.4 456.4L99.7 453.6Z" fill="none" stroke="#000" stroke-width="1.35"/><path d="M106.4 450.9L109.2 453.6L106.4 456.4L103.7 453.6Z" fill="none" stroke="#000" stroke-width="1.35"/><path d="M99.6 452.4L102.3 455.2L99.6 457.9L96.8 455.2Z" fill="none" stroke="#000" stroke-width="1.35"/><path d="M102.0 452.4L104.8 455.2L102.0 457.9L99.2 455.2Z" fill="none" stroke="#000" stroke-width="1.35"/><path d="M104.4 452.4L107.2 455.2L104.4 457.9L101.7 455.2Z" fill="none" stroke="#000" stroke-width="1.35"/><path d="M106.8 452.4L109.5 455.2L106.8 457.9L104.0 455.2Z" fill="none" stroke="#000" stroke-width="1.35"/><path d="M109.2 452.4L112.0 455.2L109.2 457.9L106.5 455.2Z" fill="none" stroke="#000" stroke-width="1.35"/>
<line x1="126.0" y1="452.5" x2="148.6" y2="452.5" stroke="#000" stroke-width="1.2"/>
<path d="M134.5 437.6L140.2 437.6L137.3 443.2Z" fill="none" stroke="#000" stroke-width="1.25"/><path d="M134.5 444.3L140.2 444.3L137.3 449.9Z" fill="none" stroke="#000" stroke-width="1.25"/><path d="M133.2 446.0L138.8 446.0L136.0 451.6Z" fill="none" stroke="#000" stroke-width="1.25"/><path d="M135.8 446.0L141.4 446.0L138.6 451.6Z" fill="none" stroke="#000" stroke-width="1.25"/><path d="M132.0 447.8L137.7 447.8L134.8 453.4Z" fill="none" stroke="#000" stroke-width="1.25"/><path d="M134.5 447.8L140.2 447.8L137.3 453.4Z" fill="none" stroke="#000" stroke-width="1.25"/><path d="M137.0 447.8L142.7 447.8L139.8 453.4Z" fill="none" stroke="#000" stroke-width="1.25"/><path d="M129.7 450.0L135.3 450.0L132.5 455.6Z" fill="none" stroke="#000" stroke-width="1.25"/><path d="M132.8 450.0L138.4 450.0L135.6 455.6Z" fill="none" stroke="#000" stroke-width="1.25"/><path d="M136.0 450.0L141.7 450.0L138.8 455.6Z" fill="none" stroke="#000" stroke-width="1.25"/><path d="M139.1 450.0L144.8 450.0L141.9 455.6Z" fill="none" stroke="#000" stroke-width="1.25"/><path d="M134.5 449.2L140.2 449.2L137.3 454.8Z" fill="none" stroke="#000" stroke-width="1.25"/>
<line x1="159.5" y1="440.5" x2="182.1" y2="440.5" stroke="#000" stroke-width="1.2"/>
<path d="M168.2 415.4L173.8 415.4L171.0 421.0Z" fill="#949494" stroke="#000" stroke-width="1.25"/><path d="M163.8 418.0L169.4 418.0L166.6 423.6Z" fill="#949494" stroke="#000" stroke-width="1.25"/><path d="M172.8 419.0L178.4 419.0L175.6 424.6Z" fill="#949494" stroke="#000" stroke-width="1.25"/><path d="M168.2 426.0L173.8 426.0L171.0 431.6Z" fill="#949494" stroke="#000" stroke-width="1.25"/><path d="M163.8 433.0L169.4 433.0L166.6 438.6Z" fill="#949494" stroke="#000" stroke-width="1.25"/><path d="M168.2 432.6L173.8 432.6L171.0 438.2Z" fill="#949494" stroke="#000" stroke-width="1.25"/><path d="M172.8 433.0L178.4 433.0L175.6 438.6Z" fill="#949494" stroke="#000" stroke-width="1.25"/><path d="M166.2 435.4L171.8 435.4L169.0 441.0Z" fill="#949494" stroke="#000" stroke-width="1.25"/><path d="M170.8 435.4L176.4 435.4L173.6 441.0Z" fill="#949494" stroke="#000" stroke-width="1.25"/><path d="M159.2 437.6L164.8 437.6L162.0 443.2Z" fill="#949494" stroke="#000" stroke-width="1.25"/><path d="M163.8 438.0L169.4 438.0L166.6 443.6Z" fill="#949494" stroke="#000" stroke-width="1.25"/><path d="M168.2 438.0L173.8 438.0L171.0 443.6Z" fill="#949494" stroke="#000" stroke-width="1.25"/><path d="M172.8 438.0L178.4 438.0L175.6 443.6Z" fill="#949494" stroke="#000" stroke-width="1.25"/><path d="M166.2 440.6L171.8 440.6L169.0 446.2Z" fill="#949494" stroke="#000" stroke-width="1.25"/><path d="M170.8 440.6L176.4 440.6L173.6 446.2Z" fill="#949494" stroke="#000" stroke-width="1.25"/><path d="M163.8 443.0L169.4 443.0L166.6 448.6Z" fill="#949494" stroke="#000" stroke-width="1.25"/><path d="M172.8 443.4L178.4 443.4L175.6 449.0Z" fill="#949494" stroke="#000" stroke-width="1.25"/><path d="M168.2 443.0L173.8 443.0L171.0 448.6Z" fill="#949494" stroke="#000" stroke-width="1.25"/><path d="M168.2 448.0L173.8 448.0L171.0 453.6Z" fill="#949494" stroke="#000" stroke-width="1.25"/>
<line x1="193.0" y1="404.5" x2="215.6" y2="404.5" stroke="#000" stroke-width="1.2"/>
<path d="M201.0 334.5L207.8 334.5L204.4 340.9Z" fill="#000"/><path d="M192.0 369.3L198.8 369.3L195.4 375.7Z" fill="#000"/><path d="M201.0 369.3L207.8 369.3L204.4 375.7Z" fill="#000"/><path d="M205.6 384.5L212.4 384.5L209.0 390.9Z" fill="#000"/><path d="M201.0 386.9L207.8 386.9L204.4 393.3Z" fill="#000"/><path d="M201.0 401.3L207.8 401.3L204.4 407.7Z" fill="#000"/><path d="M196.6 409.9L203.4 409.9L200.0 416.3Z" fill="#000"/><path d="M205.6 409.9L212.4 409.9L209.0 416.3Z" fill="#000"/><path d="M201.0 416.9L207.8 416.9L204.4 423.3Z" fill="#000"/><path d="M201.0 429.3L207.8 429.3L204.4 435.7Z" fill="#000"/><path d="M201.0 438.9L207.8 438.9L204.4 445.3Z" fill="#000"/>
<line x1="226.5" y1="409.5" x2="249.1" y2="409.5" stroke="#000" stroke-width="1.2"/>
<path d="M234.6 314.1L241.4 314.1L238.0 307.7Z" fill="#000"/><path d="M225.2 365.6L232.0 365.6L228.6 359.2Z" fill="#000"/><path d="M234.6 374.1L241.4 374.1L238.0 367.7Z" fill="#000"/><path d="M234.6 383.9L241.4 383.9L238.0 377.5Z" fill="#000"/><path d="M225.2 389.3L232.0 389.3L228.6 382.9Z" fill="#000"/><path d="M234.6 394.7L241.4 394.7L238.0 388.3Z" fill="#000"/><path d="M236.6 412.1L243.4 412.1L240.0 405.7Z" fill="#000"/><path d="M230.2 415.5L237.0 415.5L233.6 409.1Z" fill="#000"/><path d="M234.6 416.7L241.4 416.7L238.0 410.3Z" fill="#000"/><path d="M238.6 416.1L245.4 416.1L242.0 409.7Z" fill="#000"/><path d="M234.6 432.1L241.4 432.1L238.0 425.7Z" fill="#000"/><path d="M230.2 436.1L237.0 436.1L233.6 429.7Z" fill="#000"/><path d="M238.6 440.1L245.4 440.1L242.0 433.7Z" fill="#000"/><path d="M234.6 442.7L241.4 442.7L238.0 436.3Z" fill="#000"/>
<line x1="349.7" y1="298.8" x2="349.7" y2="506.9" stroke="#4a4a4a" stroke-width="1.3" stroke-dasharray="3.1 2.8"/>
<line x1="382.4" y1="298.8" x2="382.4" y2="506.9" stroke="#4a4a4a" stroke-width="1.3" stroke-dasharray="3.1 2.8"/>
<line x1="483.1" y1="298.8" x2="483.1" y2="506.9" stroke="#4a4a4a" stroke-width="1.3" stroke-dasharray="3.1 2.8"/>
<path d="M315.9 302.1V455.5H516.2" fill="none" stroke="#000" stroke-width="1.4"/>
<line x1="311.4" y1="455.5" x2="315.9" y2="455.5" stroke="#000" stroke-width="1.15"/>
<text x="309.3" y="460.4" text-anchor="end" font-size="10.9" font-weight="700">0</text>
<line x1="311.4" y1="430.5" x2="315.9" y2="430.5" stroke="#000" stroke-width="1.15"/>
<text x="309.3" y="435.4" text-anchor="end" font-size="10.9" font-weight="700">100</text>
<line x1="311.4" y1="404.5" x2="315.9" y2="404.5" stroke="#000" stroke-width="1.15"/>
<text x="309.3" y="409.4" text-anchor="end" font-size="10.9" font-weight="700">200</text>
<line x1="311.4" y1="378.5" x2="315.9" y2="378.5" stroke="#000" stroke-width="1.15"/>
<text x="309.3" y="383.4" text-anchor="end" font-size="10.9" font-weight="700">300</text>
<line x1="311.4" y1="353.5" x2="315.9" y2="353.5" stroke="#000" stroke-width="1.15"/>
<text x="309.3" y="358.4" text-anchor="end" font-size="10.9" font-weight="700">400</text>
<line x1="311.4" y1="327.5" x2="315.9" y2="327.5" stroke="#000" stroke-width="1.15"/>
<text x="309.3" y="332.4" text-anchor="end" font-size="10.9" font-weight="700">500</text>
<line x1="311.4" y1="302.5" x2="315.9" y2="302.5" stroke="#000" stroke-width="1.15"/>
<text x="309.3" y="307.4" text-anchor="end" font-size="10.9" font-weight="700">600</text>
<line x1="313.1" y1="442.5" x2="315.9" y2="442.5" stroke="#000" stroke-width="1"/>
<line x1="313.1" y1="417.5" x2="315.9" y2="417.5" stroke="#000" stroke-width="1"/>
<line x1="313.1" y1="391.5" x2="315.9" y2="391.5" stroke="#000" stroke-width="1"/>
<line x1="313.1" y1="366.5" x2="315.9" y2="366.5" stroke="#000" stroke-width="1"/>
<line x1="313.1" y1="340.5" x2="315.9" y2="340.5" stroke="#000" stroke-width="1"/>
<line x1="313.1" y1="314.5" x2="315.9" y2="314.5" stroke="#000" stroke-width="1"/>
<line x1="332.5" y1="455.5" x2="332.5" y2="458.8" stroke="#000" stroke-width="1.2"/>
<text x="332.4" y="468.8" text-anchor="middle" font-size="11" font-weight="700">M</text>
<line x1="365.5" y1="455.5" x2="365.5" y2="458.8" stroke="#000" stroke-width="1.2"/>
<text x="365.9" y="468.8" text-anchor="middle" font-size="11" font-weight="700">L</text>
<line x1="398.5" y1="455.5" x2="398.5" y2="458.8" stroke="#000" stroke-width="1.2"/>
<text x="398.9" y="468.8" text-anchor="middle" font-size="11" font-weight="700">Lx</text>
<line x1="432.5" y1="455.5" x2="432.5" y2="458.8" stroke="#000" stroke-width="1.2"/>
<text x="432.4" y="468.8" text-anchor="middle" font-size="11" font-weight="700">Ix</text>
<line x1="465.5" y1="455.5" x2="465.5" y2="458.8" stroke="#000" stroke-width="1.2"/>
<text x="465.9" y="468.8" text-anchor="middle" font-size="11" font-weight="700">Hx</text>
<line x1="499.5" y1="455.5" x2="499.5" y2="458.8" stroke="#000" stroke-width="1.2"/>
<text x="499.4" y="468.8" text-anchor="middle" font-size="11" font-weight="700">Hxh</text>
<text transform="translate(285.0 370.6) rotate(-90)" text-anchor="middle" font-size="12.6" font-weight="700">Absolute count (cell/µl)</text>
<text x="414.1" y="278.8" text-anchor="middle" font-size="12.3" font-weight="700">Naïve CD8+ T cells</text>
<path d="M368.0 307.0C369.0 303.0 372.0 303.0 376.0 303.0H410.5C413.5 303.0 415.0 302.0 415.5 300.0C416.0 302.0 417.5 303.0 420.5 303.0H455.0C459.0 303.0 462.0 303.0 463.0 307.0" fill="none" stroke="#555" stroke-width="0.8"/>
<text x="415.5" y="302.0" text-anchor="middle" font-size="10.5" font-weight="700">**</text>
<path d="M393.4 491.6L465.8 476.2H497.4V491.6Z" fill="#000"/>
<text x="477.7" y="488.0" text-anchor="middle" font-size="10.9" font-weight="700" fill="#fff" class="w">CD4</text>
<text x="333.9" y="504.9" text-anchor="middle" font-size="12.6" font-weight="700">HIV-</text>
<text x="365.7" y="504.9" text-anchor="middle" font-size="12.6" font-weight="700">HIV+</text>
<text x="447.6" y="504.9" text-anchor="middle" font-size="12.6" font-weight="700">HIV+ Tx+</text>
<line x1="321.1" y1="419.5" x2="343.7" y2="419.5" stroke="#000" stroke-width="1.2"/>
<circle cx="328.6" cy="388.0" r="2.8" fill="#8c8c8c" stroke="#1c1c1c" stroke-width="1.2"/><circle cx="335.6" cy="387.0" r="2.8" fill="#8c8c8c" stroke="#1c1c1c" stroke-width="1.2"/><circle cx="338.0" cy="390.4" r="2.8" fill="#8c8c8c" stroke="#1c1c1c" stroke-width="1.2"/><circle cx="333.0" cy="392.0" r="2.8" fill="#8c8c8c" stroke="#1c1c1c" stroke-width="1.2"/><circle cx="331.0" cy="404.4" r="2.8" fill="#8c8c8c" stroke="#1c1c1c" stroke-width="1.2"/><circle cx="335.6" cy="405.0" r="2.8" fill="#8c8c8c" stroke="#1c1c1c" stroke-width="1.2"/><circle cx="323.6" cy="407.6" r="2.8" fill="#8c8c8c" stroke="#1c1c1c" stroke-width="1.2"/><circle cx="328.6" cy="408.0" r="2.8" fill="#8c8c8c" stroke="#1c1c1c" stroke-width="1.2"/><circle cx="338.0" cy="407.6" r="2.8" fill="#8c8c8c" stroke="#1c1c1c" stroke-width="1.2"/><circle cx="333.0" cy="409.6" r="2.8" fill="#8c8c8c" stroke="#1c1c1c" stroke-width="1.2"/><circle cx="331.0" cy="412.0" r="2.8" fill="#8c8c8c" stroke="#1c1c1c" stroke-width="1.2"/><circle cx="335.6" cy="413.0" r="2.8" fill="#8c8c8c" stroke="#1c1c1c" stroke-width="1.2"/><circle cx="328.6" cy="419.0" r="2.8" fill="#8c8c8c" stroke="#1c1c1c" stroke-width="1.2"/><circle cx="333.6" cy="420.0" r="2.8" fill="#8c8c8c" stroke="#1c1c1c" stroke-width="1.2"/><circle cx="338.0" cy="420.0" r="2.8" fill="#8c8c8c" stroke="#1c1c1c" stroke-width="1.2"/><circle cx="331.0" cy="424.0" r="2.8" fill="#8c8c8c" stroke="#1c1c1c" stroke-width="1.2"/><circle cx="335.6" cy="425.0" r="2.8" fill="#8c8c8c" stroke="#1c1c1c" stroke-width="1.2"/><circle cx="328.6" cy="429.0" r="2.8" fill="#8c8c8c" stroke="#1c1c1c" stroke-width="1.2"/><circle cx="333.0" cy="428.0" r="2.8" fill="#8c8c8c" stroke="#1c1c1c" stroke-width="1.2"/><circle cx="323.6" cy="432.0" r="2.8" fill="#8c8c8c" stroke="#1c1c1c" stroke-width="1.2"/><circle cx="331.0" cy="431.0" r="2.8" fill="#8c8c8c" stroke="#1c1c1c" stroke-width="1.2"/><circle cx="338.0" cy="431.0" r="2.8" fill="#8c8c8c" stroke="#1c1c1c" stroke-width="1.2"/><circle cx="333.6" cy="434.0" r="2.8" fill="#8c8c8c" stroke="#1c1c1c" stroke-width="1.2"/><circle cx="335.6" cy="437.0" r="2.8" fill="#8c8c8c" stroke="#1c1c1c" stroke-width="1.2"/><circle cx="328.6" cy="440.0" r="2.8" fill="#8c8c8c" stroke="#1c1c1c" stroke-width="1.2"/><circle cx="338.0" cy="441.6" r="2.8" fill="#8c8c8c" stroke="#1c1c1c" stroke-width="1.2"/><circle cx="333.0" cy="444.4" r="2.8" fill="#8c8c8c" stroke="#1c1c1c" stroke-width="1.2"/>
<line x1="354.6" y1="444.5" x2="377.2" y2="444.5" stroke="#000" stroke-width="1.2"/>
<path d="M362.0 407.2L364.8 410.0L362.0 412.8L359.2 410.0Z" fill="none" stroke="#000" stroke-width="1.35"/><path d="M371.0 408.6L373.8 411.4L371.0 414.1L368.2 411.4Z" fill="none" stroke="#000" stroke-width="1.35"/><path d="M366.6 412.2L369.4 415.0L366.6 417.8L363.9 415.0Z" fill="none" stroke="#000" stroke-width="1.35"/><path d="M357.4 415.6L360.1 418.4L357.4 421.1L354.6 418.4Z" fill="none" stroke="#000" stroke-width="1.35"/><path d="M366.6 422.2L369.4 425.0L366.6 427.8L363.9 425.0Z" fill="none" stroke="#000" stroke-width="1.35"/><path d="M366.6 432.2L369.4 435.0L366.6 437.8L363.9 435.0Z" fill="none" stroke="#000" stroke-width="1.35"/><path d="M362.0 437.2L364.8 440.0L362.0 442.8L359.2 440.0Z" fill="none" stroke="#000" stroke-width="1.35"/><path d="M369.0 437.2L371.8 440.0L369.0 442.8L366.2 440.0Z" fill="none" stroke="#000" stroke-width="1.35"/><path d="M371.0 439.2L373.8 442.0L371.0 444.8L368.2 442.0Z" fill="none" stroke="#000" stroke-width="1.35"/><path d="M357.4 442.2L360.1 445.0L357.4 447.8L354.6 445.0Z" fill="none" stroke="#000" stroke-width="1.35"/><path d="M366.6 441.2L369.4 444.0L366.6 446.8L363.9 444.0Z" fill="none" stroke="#000" stroke-width="1.35"/><path d="M366.6 444.2L369.4 447.0L366.6 449.8L363.9 447.0Z" fill="none" stroke="#000" stroke-width="1.35"/><path d="M364.0 446.2L366.8 449.0L364.0 451.8L361.2 449.0Z" fill="none" stroke="#000" stroke-width="1.35"/><path d="M369.0 447.2L371.8 450.0L369.0 452.8L366.2 450.0Z" fill="none" stroke="#000" stroke-width="1.35"/><path d="M362.0 449.2L364.8 452.0L362.0 454.8L359.2 452.0Z" fill="none" stroke="#000" stroke-width="1.35"/><path d="M371.0 450.2L373.8 453.0L371.0 455.8L368.2 453.0Z" fill="none" stroke="#000" stroke-width="1.35"/><path d="M366.6 449.6L369.4 452.4L366.6 455.1L363.9 452.4Z" fill="none" stroke="#000" stroke-width="1.35"/><path d="M366.6 452.6L369.4 455.4L366.6 458.1L363.9 455.4Z" fill="none" stroke="#000" stroke-width="1.35"/>
<line x1="387.6" y1="425.5" x2="410.2" y2="425.5" stroke="#000" stroke-width="1.2"/>
<path d="M396.5 373.0L402.2 373.0L399.4 378.6Z" fill="none" stroke="#000" stroke-width="1.25"/><path d="M387.8 379.0L393.5 379.0L390.6 384.6Z" fill="none" stroke="#000" stroke-width="1.25"/><path d="M396.5 384.4L402.2 384.4L399.4 390.0Z" fill="none" stroke="#000" stroke-width="1.25"/><path d="M401.1 404.0L406.9 404.0L404.0 409.6Z" fill="none" stroke="#000" stroke-width="1.25"/><path d="M396.5 411.0L402.2 411.0L399.4 416.6Z" fill="none" stroke="#000" stroke-width="1.25"/><path d="M387.8 432.6L393.5 432.6L390.6 438.2Z" fill="none" stroke="#000" stroke-width="1.25"/><path d="M396.5 434.0L402.2 434.0L399.4 439.6Z" fill="none" stroke="#000" stroke-width="1.25"/><path d="M392.1 439.0L397.9 439.0L395.0 444.6Z" fill="none" stroke="#000" stroke-width="1.25"/><path d="M401.1 443.4L406.9 443.4L404.0 449.0Z" fill="none" stroke="#000" stroke-width="1.25"/><path d="M396.5 447.0L402.2 447.0L399.4 452.6Z" fill="none" stroke="#000" stroke-width="1.25"/>
<line x1="421.1" y1="424.5" x2="443.7" y2="424.5" stroke="#000" stroke-width="1.2"/>
<path d="M430.1 328.0L435.9 328.0L433.0 333.6Z" fill="#949494" stroke="#000" stroke-width="1.25"/><path d="M430.1 349.0L435.9 349.0L433.0 354.6Z" fill="#949494" stroke="#000" stroke-width="1.25"/><path d="M420.8 365.0L426.5 365.0L423.6 370.6Z" fill="#949494" stroke="#000" stroke-width="1.25"/><path d="M430.1 366.0L435.9 366.0L433.0 371.6Z" fill="#949494" stroke="#000" stroke-width="1.25"/><path d="M430.1 399.0L435.9 399.0L433.0 404.6Z" fill="#949494" stroke="#000" stroke-width="1.25"/><path d="M434.8 398.0L440.5 398.0L437.6 403.6Z" fill="#949494" stroke="#000" stroke-width="1.25"/><path d="M425.8 409.4L431.5 409.4L428.6 415.0Z" fill="#949494" stroke="#000" stroke-width="1.25"/><path d="M420.8 414.0L426.5 414.0L423.6 419.6Z" fill="#949494" stroke="#000" stroke-width="1.25"/><path d="M434.8 413.0L440.5 413.0L437.6 418.6Z" fill="#949494" stroke="#000" stroke-width="1.25"/><path d="M430.1 416.6L435.9 416.6L433.0 422.2Z" fill="#949494" stroke="#000" stroke-width="1.25"/><path d="M425.8 427.4L431.5 427.4L428.6 433.0Z" fill="#949494" stroke="#000" stroke-width="1.25"/><path d="M428.1 427.0L433.9 427.0L431.0 432.6Z" fill="#949494" stroke="#000" stroke-width="1.25"/><path d="M432.8 427.0L438.5 427.0L435.6 432.6Z" fill="#949494" stroke="#000" stroke-width="1.25"/><path d="M425.8 430.0L431.5 430.0L428.6 435.6Z" fill="#949494" stroke="#000" stroke-width="1.25"/><path d="M434.8 430.0L440.5 430.0L437.6 435.6Z" fill="#949494" stroke="#000" stroke-width="1.25"/><path d="M430.1 430.6L435.9 430.6L433.0 436.2Z" fill="#949494" stroke="#000" stroke-width="1.25"/><path d="M420.8 438.6L426.5 438.6L423.6 444.2Z" fill="#949494" stroke="#000" stroke-width="1.25"/><path d="M430.1 439.0L435.9 439.0L433.0 444.6Z" fill="#949494" stroke="#000" stroke-width="1.25"/><path d="M425.8 446.0L431.5 446.0L428.6 451.6Z" fill="#949494" stroke="#000" stroke-width="1.25"/><path d="M434.8 447.4L440.5 447.4L437.6 453.0Z" fill="#949494" stroke="#000" stroke-width="1.25"/><path d="M430.1 449.4L435.9 449.4L433.0 455.0Z" fill="#949494" stroke="#000" stroke-width="1.25"/>
<line x1="454.6" y1="397.5" x2="477.2" y2="397.5" stroke="#000" stroke-width="1.2"/>
<path d="M463.0 317.3L469.8 317.3L466.4 323.7Z" fill="#000"/><path d="M467.2 314.9L474.0 314.9L470.6 321.3Z" fill="#000"/><path d="M463.0 341.3L469.8 341.3L466.4 347.7Z" fill="#000"/><path d="M467.2 377.9L474.0 377.9L470.6 384.3Z" fill="#000"/><path d="M463.0 386.9L469.8 386.9L466.4 393.3Z" fill="#000"/><path d="M453.6 394.5L460.4 394.5L457.0 400.9Z" fill="#000"/><path d="M463.0 396.9L469.8 396.9L466.4 403.3Z" fill="#000"/><path d="M463.0 412.5L469.8 412.5L466.4 418.9Z" fill="#000"/><path d="M453.6 427.5L460.4 427.5L457.0 433.9Z" fill="#000"/><path d="M463.0 434.9L469.8 434.9L466.4 441.3Z" fill="#000"/><path d="M463.0 444.9L469.8 444.9L466.4 451.3Z" fill="#000"/>
<line x1="488.1" y1="402.5" x2="510.7" y2="402.5" stroke="#000" stroke-width="1.2"/>
<path d="M496.0 342.1L502.8 342.1L499.4 335.7Z" fill="#000"/><path d="M500.6 369.1L507.4 369.1L504.0 362.7Z" fill="#000"/><path d="M496.0 376.7L502.8 376.7L499.4 370.3Z" fill="#000"/><path d="M496.0 390.1L502.8 390.1L499.4 383.7Z" fill="#000"/><path d="M500.6 405.1L507.4 405.1L504.0 398.7Z" fill="#000"/><path d="M496.0 406.7L502.8 406.7L499.4 400.3Z" fill="#000"/><path d="M496.0 416.7L502.8 416.7L499.4 410.3Z" fill="#000"/><path d="M496.0 427.1L502.8 427.1L499.4 420.7Z" fill="#000"/><path d="M486.6 443.5L493.4 443.5L490.0 437.1Z" fill="#000"/><path d="M496.0 444.7L502.8 444.7L499.4 438.3Z" fill="#000"/><path d="M491.6 449.1L498.4 449.1L495.0 442.7Z" fill="#000"/><path d="M500.6 452.1L507.4 452.1L504.0 445.7Z" fill="#000"/><path d="M496.0 455.1L502.8 455.1L499.4 448.7Z" fill="#000"/>
<line x1="88.1" y1="557.5" x2="88.1" y2="765.2" stroke="#4a4a4a" stroke-width="1.3" stroke-dasharray="3.1 2.8"/>
<line x1="120.8" y1="557.5" x2="120.8" y2="765.2" stroke="#4a4a4a" stroke-width="1.3" stroke-dasharray="3.1 2.8"/>
<line x1="221.5" y1="557.5" x2="221.5" y2="765.2" stroke="#4a4a4a" stroke-width="1.3" stroke-dasharray="3.1 2.8"/>
<path d="M54.5 561.3V713.5H254.6" fill="none" stroke="#000" stroke-width="1.4"/>
<line x1="50.0" y1="713.5" x2="54.5" y2="713.5" stroke="#000" stroke-width="1.15"/>
<text x="47.9" y="718.4" text-anchor="end" font-size="10.9" font-weight="700">0</text>
<line x1="50.0" y1="692.5" x2="54.5" y2="692.5" stroke="#000" stroke-width="1.15"/>
<text x="47.9" y="697.4" text-anchor="end" font-size="10.9" font-weight="700">100</text>
<line x1="50.0" y1="670.5" x2="54.5" y2="670.5" stroke="#000" stroke-width="1.15"/>
<text x="47.9" y="675.4" text-anchor="end" font-size="10.9" font-weight="700">200</text>
<line x1="50.0" y1="648.5" x2="54.5" y2="648.5" stroke="#000" stroke-width="1.15"/>
<text x="47.9" y="653.4" text-anchor="end" font-size="10.9" font-weight="700">300</text>
<line x1="50.0" y1="626.5" x2="54.5" y2="626.5" stroke="#000" stroke-width="1.15"/>
<text x="47.9" y="631.4" text-anchor="end" font-size="10.9" font-weight="700">400</text>
<line x1="50.0" y1="605.5" x2="54.5" y2="605.5" stroke="#000" stroke-width="1.15"/>
<text x="47.9" y="610.4" text-anchor="end" font-size="10.9" font-weight="700">500</text>
<line x1="50.0" y1="583.5" x2="54.5" y2="583.5" stroke="#000" stroke-width="1.15"/>
<text x="47.9" y="588.4" text-anchor="end" font-size="10.9" font-weight="700">600</text>
<line x1="50.0" y1="561.5" x2="54.5" y2="561.5" stroke="#000" stroke-width="1.15"/>
<text x="47.9" y="566.4" text-anchor="end" font-size="10.9" font-weight="700">700</text>
<line x1="51.7" y1="703.5" x2="54.5" y2="703.5" stroke="#000" stroke-width="1"/>
<line x1="51.7" y1="681.5" x2="54.5" y2="681.5" stroke="#000" stroke-width="1"/>
<line x1="51.7" y1="659.5" x2="54.5" y2="659.5" stroke="#000" stroke-width="1"/>
<line x1="51.7" y1="637.5" x2="54.5" y2="637.5" stroke="#000" stroke-width="1"/>
<line x1="51.7" y1="615.5" x2="54.5" y2="615.5" stroke="#000" stroke-width="1"/>
<line x1="51.7" y1="594.5" x2="54.5" y2="594.5" stroke="#000" stroke-width="1"/>
<line x1="51.7" y1="572.5" x2="54.5" y2="572.5" stroke="#000" stroke-width="1"/>
<line x1="70.5" y1="713.5" x2="70.5" y2="716.8" stroke="#000" stroke-width="1.2"/>
<text x="70.8" y="727.9" text-anchor="middle" font-size="11" font-weight="700">M</text>
<line x1="104.5" y1="713.5" x2="104.5" y2="716.8" stroke="#000" stroke-width="1.2"/>
<text x="104.3" y="727.9" text-anchor="middle" font-size="11" font-weight="700">L</text>
<line x1="137.5" y1="713.5" x2="137.5" y2="716.8" stroke="#000" stroke-width="1.2"/>
<text x="137.3" y="727.9" text-anchor="middle" font-size="11" font-weight="700">Lx</text>
<line x1="170.5" y1="713.5" x2="170.5" y2="716.8" stroke="#000" stroke-width="1.2"/>
<text x="170.8" y="727.9" text-anchor="middle" font-size="11" font-weight="700">Ix</text>
<line x1="204.5" y1="713.5" x2="204.5" y2="716.8" stroke="#000" stroke-width="1.2"/>
<text x="204.3" y="727.9" text-anchor="middle" font-size="11" font-weight="700">Hx</text>
<line x1="237.5" y1="713.5" x2="237.5" y2="716.8" stroke="#000" stroke-width="1.2"/>
<text x="237.8" y="727.9" text-anchor="middle" font-size="11" font-weight="700">Hxh</text>
<text transform="translate(24.0 630.2) rotate(-90)" text-anchor="middle" font-size="12.6" font-weight="700">Absolute count (cell/µl)</text>
<text x="152.3" y="545.5" text-anchor="middle" font-size="12.3" font-weight="700">B cells</text>
<path d="M108.0 571.0C109.0 567.0 112.0 567.0 116.0 567.0H150.2C153.2 567.0 154.8 566.0 155.2 564.0C155.8 566.0 157.2 567.0 160.2 567.0H194.5C198.5 567.0 201.5 567.0 202.5 571.0" fill="none" stroke="#555" stroke-width="0.8"/>
<text x="155.2" y="566.0" text-anchor="middle" font-size="10.5" font-weight="700">***</text>
<path d="M131.8 750.5L204.2 735.5H235.8V750.5Z" fill="#000"/>
<text x="216.1" y="746.9" text-anchor="middle" font-size="10.9" font-weight="700" fill="#fff" class="w">CD4</text>
<text x="72.3" y="763.9" text-anchor="middle" font-size="12.6" font-weight="700">HIV-</text>
<text x="104.1" y="763.9" text-anchor="middle" font-size="12.6" font-weight="700">HIV+</text>
<text x="186.0" y="763.9" text-anchor="middle" font-size="12.6" font-weight="700">HIV+ Tx+</text>
<line x1="59.5" y1="671.5" x2="82.1" y2="671.5" stroke="#000" stroke-width="1.2"/>
<circle cx="71.4" cy="582.6" r="2.8" fill="#8c8c8c" stroke="#1c1c1c" stroke-width="1.2"/><circle cx="62.4" cy="634.4" r="2.8" fill="#8c8c8c" stroke="#1c1c1c" stroke-width="1.2"/><circle cx="71.4" cy="635.6" r="2.8" fill="#8c8c8c" stroke="#1c1c1c" stroke-width="1.2"/><circle cx="76.0" cy="633.6" r="2.8" fill="#8c8c8c" stroke="#1c1c1c" stroke-width="1.2"/><circle cx="71.4" cy="647.0" r="2.8" fill="#8c8c8c" stroke="#1c1c1c" stroke-width="1.2"/><circle cx="66.6" cy="652.4" r="2.8" fill="#8c8c8c" stroke="#1c1c1c" stroke-width="1.2"/><circle cx="76.0" cy="656.6" r="2.8" fill="#8c8c8c" stroke="#1c1c1c" stroke-width="1.2"/><circle cx="62.4" cy="660.0" r="2.8" fill="#8c8c8c" stroke="#1c1c1c" stroke-width="1.2"/><circle cx="71.4" cy="660.6" r="2.8" fill="#8c8c8c" stroke="#1c1c1c" stroke-width="1.2"/><circle cx="73.6" cy="666.0" r="2.8" fill="#8c8c8c" stroke="#1c1c1c" stroke-width="1.2"/><circle cx="66.6" cy="671.6" r="2.8" fill="#8c8c8c" stroke="#1c1c1c" stroke-width="1.2"/><circle cx="71.4" cy="673.0" r="2.8" fill="#8c8c8c" stroke="#1c1c1c" stroke-width="1.2"/><circle cx="76.0" cy="672.0" r="2.8" fill="#8c8c8c" stroke="#1c1c1c" stroke-width="1.2"/><circle cx="66.6" cy="679.4" r="2.8" fill="#8c8c8c" stroke="#1c1c1c" stroke-width="1.2"/><circle cx="73.6" cy="679.0" r="2.8" fill="#8c8c8c" stroke="#1c1c1c" stroke-width="1.2"/><circle cx="62.4" cy="683.6" r="2.8" fill="#8c8c8c" stroke="#1c1c1c" stroke-width="1.2"/><circle cx="71.4" cy="684.0" r="2.8" fill="#8c8c8c" stroke="#1c1c1c" stroke-width="1.2"/><circle cx="76.0" cy="683.0" r="2.8" fill="#8c8c8c" stroke="#1c1c1c" stroke-width="1.2"/><circle cx="66.6" cy="690.0" r="2.8" fill="#8c8c8c" stroke="#1c1c1c" stroke-width="1.2"/><circle cx="73.6" cy="689.6" r="2.8" fill="#8c8c8c" stroke="#1c1c1c" stroke-width="1.2"/><circle cx="71.4" cy="695.6" r="2.8" fill="#8c8c8c" stroke="#1c1c1c" stroke-width="1.2"/><circle cx="76.0" cy="695.0" r="2.8" fill="#8c8c8c" stroke="#1c1c1c" stroke-width="1.2"/>
<line x1="93.0" y1="699.5" x2="115.6" y2="699.5" stroke="#000" stroke-width="1.2"/>
<path d="M104.4 663.9L107.2 666.6L104.4 669.4L101.7 666.6Z" fill="none" stroke="#000" stroke-width="1.35"/><path d="M109.0 686.2L111.8 689.0L109.0 691.8L106.2 689.0Z" fill="none" stroke="#000" stroke-width="1.35"/><path d="M104.4 687.2L107.2 690.0L104.4 692.8L101.7 690.0Z" fill="none" stroke="#000" stroke-width="1.35"/><path d="M102.0 691.6L104.8 694.4L102.0 697.1L99.2 694.4Z" fill="none" stroke="#000" stroke-width="1.35"/><path d="M106.0 692.9L108.8 695.6L106.0 698.4L103.2 695.6Z" fill="none" stroke="#000" stroke-width="1.35"/><path d="M100.0 695.2L102.8 698.0L100.0 700.8L97.2 698.0Z" fill="none" stroke="#000" stroke-width="1.35"/><path d="M109.0 694.9L111.8 697.6L109.0 700.4L106.2 697.6Z" fill="none" stroke="#000" stroke-width="1.35"/><path d="M95.6 696.6L98.3 699.4L95.6 702.1L92.8 699.4Z" fill="none" stroke="#000" stroke-width="1.35"/><path d="M104.4 696.2L107.2 699.0L104.4 701.8L101.7 699.0Z" fill="none" stroke="#000" stroke-width="1.35"/><path d="M104.4 699.2L107.2 702.0L104.4 704.8L101.7 702.0Z" fill="none" stroke="#000" stroke-width="1.35"/><path d="M104.4 702.2L107.2 705.0L104.4 707.8L101.7 705.0Z" fill="none" stroke="#000" stroke-width="1.35"/><path d="M102.0 705.2L104.8 708.0L102.0 710.8L99.2 708.0Z" fill="none" stroke="#000" stroke-width="1.35"/><path d="M107.0 705.2L109.8 708.0L107.0 710.8L104.2 708.0Z" fill="none" stroke="#000" stroke-width="1.35"/><path d="M100.0 707.6L102.8 710.4L100.0 713.1L97.2 710.4Z" fill="none" stroke="#000" stroke-width="1.35"/><path d="M109.0 708.9L111.8 711.6L109.0 714.4L106.2 711.6Z" fill="none" stroke="#000" stroke-width="1.35"/><path d="M104.4 710.6L107.2 713.4L104.4 716.1L101.7 713.4Z" fill="none" stroke="#000" stroke-width="1.35"/>
<line x1="126.0" y1="695.5" x2="148.6" y2="695.5" stroke="#000" stroke-width="1.2"/>
<path d="M134.6 618.6L140.2 618.6L137.4 624.2Z" fill="none" stroke="#000" stroke-width="1.25"/><path d="M130.2 647.0L135.8 647.0L133.0 652.6Z" fill="none" stroke="#000" stroke-width="1.25"/><path d="M134.6 645.0L140.2 645.0L137.4 650.6Z" fill="none" stroke="#000" stroke-width="1.25"/><path d="M134.6 656.6L140.2 656.6L137.4 662.2Z" fill="none" stroke="#000" stroke-width="1.25"/><path d="M139.2 655.0L144.8 655.0L142.0 660.6Z" fill="none" stroke="#000" stroke-width="1.25"/><path d="M125.8 693.0L131.4 693.0L128.6 698.6Z" fill="none" stroke="#000" stroke-width="1.25"/><path d="M130.2 691.4L135.8 691.4L133.0 697.0Z" fill="none" stroke="#000" stroke-width="1.25"/><path d="M134.6 696.0L140.2 696.0L137.4 701.6Z" fill="none" stroke="#000" stroke-width="1.25"/><path d="M139.2 693.0L144.8 693.0L142.0 698.6Z" fill="none" stroke="#000" stroke-width="1.25"/><path d="M130.2 703.4L135.8 703.4L133.0 709.0Z" fill="none" stroke="#000" stroke-width="1.25"/><path d="M134.6 708.6L140.2 708.6L137.4 714.2Z" fill="none" stroke="#000" stroke-width="1.25"/><path d="M139.2 707.0L144.8 707.0L142.0 712.6Z" fill="none" stroke="#000" stroke-width="1.25"/>
<line x1="159.5" y1="680.5" x2="182.1" y2="680.5" stroke="#000" stroke-width="1.2"/>
<path d="M168.2 611.0L173.8 611.0L171.0 616.6Z" fill="#949494" stroke="#000" stroke-width="1.25"/><path d="M172.8 629.0L178.4 629.0L175.6 634.6Z" fill="#949494" stroke="#000" stroke-width="1.25"/><path d="M168.2 632.6L173.8 632.6L171.0 638.2Z" fill="#949494" stroke="#000" stroke-width="1.25"/><path d="M168.2 647.0L173.8 647.0L171.0 652.6Z" fill="#949494" stroke="#000" stroke-width="1.25"/><path d="M163.8 665.0L169.4 665.0L166.6 670.6Z" fill="#949494" stroke="#000" stroke-width="1.25"/><path d="M168.2 664.0L173.8 664.0L171.0 669.6Z" fill="#949494" stroke="#000" stroke-width="1.25"/><path d="M170.8 665.0L176.4 665.0L173.6 670.6Z" fill="#949494" stroke="#000" stroke-width="1.25"/><path d="M159.2 672.6L164.8 672.6L162.0 678.2Z" fill="#949494" stroke="#000" stroke-width="1.25"/><path d="M168.2 672.6L173.8 672.6L171.0 678.2Z" fill="#949494" stroke="#000" stroke-width="1.25"/><path d="M172.8 672.0L178.4 672.0L175.6 677.6Z" fill="#949494" stroke="#000" stroke-width="1.25"/><path d="M166.2 675.4L171.8 675.4L169.0 681.0Z" fill="#949494" stroke="#000" stroke-width="1.25"/><path d="M163.8 678.0L169.4 678.0L166.6 683.6Z" fill="#949494" stroke="#000" stroke-width="1.25"/><path d="M168.2 678.0L173.8 678.0L171.0 683.6Z" fill="#949494" stroke="#000" stroke-width="1.25"/><path d="M170.8 680.6L176.4 680.6L173.6 686.2Z" fill="#949494" stroke="#000" stroke-width="1.25"/><path d="M163.8 682.0L169.4 682.0L166.6 687.6Z" fill="#949494" stroke="#000" stroke-width="1.25"/><path d="M172.8 682.0L178.4 682.0L175.6 687.6Z" fill="#949494" stroke="#000" stroke-width="1.25"/><path d="M166.2 684.0L171.8 684.0L169.0 689.6Z" fill="#949494" stroke="#000" stroke-width="1.25"/><path d="M163.8 686.0L169.4 686.0L166.6 691.6Z" fill="#949494" stroke="#000" stroke-width="1.25"/><path d="M159.2 692.6L164.8 692.6L162.0 698.2Z" fill="#949494" stroke="#000" stroke-width="1.25"/><path d="M168.2 693.0L173.8 693.0L171.0 698.6Z" fill="#949494" stroke="#000" stroke-width="1.25"/><path d="M172.8 692.6L178.4 692.6L175.6 698.2Z" fill="#949494" stroke="#000" stroke-width="1.25"/><path d="M172.8 702.0L178.4 702.0L175.6 707.6Z" fill="#949494" stroke="#000" stroke-width="1.25"/><path d="M168.2 704.0L173.8 704.0L171.0 709.6Z" fill="#949494" stroke="#000" stroke-width="1.25"/>
<line x1="193.0" y1="676.5" x2="215.6" y2="676.5" stroke="#000" stroke-width="1.2"/>
<path d="M201.0 586.9L207.8 586.9L204.4 593.3Z" fill="#000"/><path d="M201.0 607.9L207.8 607.9L204.4 614.3Z" fill="#000"/><path d="M205.6 628.1L212.4 628.1L209.0 634.5Z" fill="#000"/><path d="M201.0 635.9L207.8 635.9L204.4 642.3Z" fill="#000"/><path d="M192.0 647.1L198.8 647.1L195.4 653.5Z" fill="#000"/><path d="M201.0 652.5L207.8 652.5L204.4 658.9Z" fill="#000"/><path d="M205.6 671.5L212.4 671.5L209.0 677.9Z" fill="#000"/><path d="M201.0 674.9L207.8 674.9L204.4 681.3Z" fill="#000"/><path d="M192.0 689.9L198.8 689.9L195.4 696.3Z" fill="#000"/><path d="M196.6 690.5L203.4 690.5L200.0 696.9Z" fill="#000"/><path d="M201.0 691.9L207.8 691.9L204.4 698.3Z" fill="#000"/><path d="M205.6 690.5L212.4 690.5L209.0 696.9Z" fill="#000"/><path d="M205.6 695.3L212.4 695.3L209.0 701.7Z" fill="#000"/><path d="M201.0 702.9L207.8 702.9L204.4 709.3Z" fill="#000"/>
<line x1="226.5" y1="666.5" x2="249.1" y2="666.5" stroke="#000" stroke-width="1.2"/>
<path d="M234.6 606.7L241.4 606.7L238.0 600.3Z" fill="#000"/><path d="M225.2 624.1L232.0 624.1L228.6 617.7Z" fill="#000"/><path d="M234.6 629.9L241.4 629.9L238.0 623.5Z" fill="#000"/><path d="M229.6 641.1L236.4 641.1L233.0 634.7Z" fill="#000"/><path d="M234.6 644.9L241.4 644.9L238.0 638.5Z" fill="#000"/><path d="M238.6 643.9L245.4 643.9L242.0 637.5Z" fill="#000"/><path d="M233.6 661.1L240.4 661.1L237.0 654.7Z" fill="#000"/><path d="M231.6 664.1L238.4 664.1L235.0 657.7Z" fill="#000"/><path d="M236.0 664.7L242.8 664.7L239.4 658.3Z" fill="#000"/><path d="M225.2 669.5L232.0 669.5L228.6 663.1Z" fill="#000"/><path d="M230.2 668.1L237.0 668.1L233.6 661.7Z" fill="#000"/><path d="M234.6 670.1L241.4 670.1L238.0 663.7Z" fill="#000"/><path d="M238.6 669.1L245.4 669.1L242.0 662.7Z" fill="#000"/><path d="M229.6 676.7L236.4 676.7L233.0 670.3Z" fill="#000"/><path d="M238.6 677.5L245.4 677.5L242.0 671.1Z" fill="#000"/><path d="M234.6 680.7L241.4 680.7L238.0 674.3Z" fill="#000"/><path d="M234.6 684.1L241.4 684.1L238.0 677.7Z" fill="#000"/><path d="M229.6 686.7L236.4 686.7L233.0 680.3Z" fill="#000"/><path d="M238.6 687.1L245.4 687.1L242.0 680.7Z" fill="#000"/><path d="M225.2 692.1L232.0 692.1L228.6 685.7Z" fill="#000"/><path d="M234.6 693.1L241.4 693.1L238.0 686.7Z" fill="#000"/><path d="M234.6 708.1L241.4 708.1L238.0 701.7Z" fill="#000"/>
<line x1="349.7" y1="557.5" x2="349.7" y2="765.2" stroke="#4a4a4a" stroke-width="1.3" stroke-dasharray="3.1 2.8"/>
<line x1="382.4" y1="557.5" x2="382.4" y2="765.2" stroke="#4a4a4a" stroke-width="1.3" stroke-dasharray="3.1 2.8"/>
<line x1="483.1" y1="557.5" x2="483.1" y2="765.2" stroke="#4a4a4a" stroke-width="1.3" stroke-dasharray="3.1 2.8"/>
<path d="M315.9 561.7V714.5H516.2" fill="none" stroke="#000" stroke-width="1.4"/>
<line x1="311.4" y1="714.5" x2="315.9" y2="714.5" stroke="#000" stroke-width="1.15"/>
<text x="309.3" y="719.4" text-anchor="end" font-size="10.9" font-weight="700">0</text>
<line x1="311.4" y1="695.5" x2="315.9" y2="695.5" stroke="#000" stroke-width="1.15"/>
<text x="309.3" y="700.4" text-anchor="end" font-size="10.9" font-weight="700">100</text>
<line x1="311.4" y1="676.5" x2="315.9" y2="676.5" stroke="#000" stroke-width="1.15"/>
<text x="309.3" y="681.4" text-anchor="end" font-size="10.9" font-weight="700">200</text>
<line x1="311.4" y1="656.5" x2="315.9" y2="656.5" stroke="#000" stroke-width="1.15"/>
<text x="309.3" y="661.4" text-anchor="end" font-size="10.9" font-weight="700">300</text>
<line x1="311.4" y1="637.5" x2="315.9" y2="637.5" stroke="#000" stroke-width="1.15"/>
<text x="309.3" y="642.4" text-anchor="end" font-size="10.9" font-weight="700">400</text>
<line x1="311.4" y1="618.5" x2="315.9" y2="618.5" stroke="#000" stroke-width="1.15"/>
<text x="309.3" y="623.4" text-anchor="end" font-size="10.9" font-weight="700">500</text>
<line x1="311.4" y1="599.5" x2="315.9" y2="599.5" stroke="#000" stroke-width="1.15"/>
<text x="309.3" y="604.4" text-anchor="end" font-size="10.9" font-weight="700">600</text>
<line x1="311.4" y1="580.5" x2="315.9" y2="580.5" stroke="#000" stroke-width="1.15"/>
<text x="309.3" y="585.4" text-anchor="end" font-size="10.9" font-weight="700">700</text>
<line x1="311.4" y1="561.5" x2="315.9" y2="561.5" stroke="#000" stroke-width="1.15"/>
<text x="309.3" y="566.4" text-anchor="end" font-size="10.9" font-weight="700">800</text>
<line x1="313.1" y1="704.5" x2="315.9" y2="704.5" stroke="#000" stroke-width="1"/>
<line x1="313.1" y1="685.5" x2="315.9" y2="685.5" stroke="#000" stroke-width="1"/>
<line x1="313.1" y1="666.5" x2="315.9" y2="666.5" stroke="#000" stroke-width="1"/>
<line x1="313.1" y1="647.5" x2="315.9" y2="647.5" stroke="#000" stroke-width="1"/>
<line x1="313.1" y1="628.5" x2="315.9" y2="628.5" stroke="#000" stroke-width="1"/>
<line x1="313.1" y1="609.5" x2="315.9" y2="609.5" stroke="#000" stroke-width="1"/>
<line x1="313.1" y1="590.5" x2="315.9" y2="590.5" stroke="#000" stroke-width="1"/>
<line x1="313.1" y1="571.5" x2="315.9" y2="571.5" stroke="#000" stroke-width="1"/>
<line x1="332.5" y1="714.5" x2="332.5" y2="717.8" stroke="#000" stroke-width="1.2"/>
<text x="332.4" y="728.1" text-anchor="middle" font-size="11" font-weight="700">M</text>
<line x1="365.5" y1="714.5" x2="365.5" y2="717.8" stroke="#000" stroke-width="1.2"/>
<text x="365.9" y="728.1" text-anchor="middle" font-size="11" font-weight="700">L</text>
<line x1="398.5" y1="714.5" x2="398.5" y2="717.8" stroke="#000" stroke-width="1.2"/>
<text x="398.9" y="728.1" text-anchor="middle" font-size="11" font-weight="700">Lx</text>
<line x1="432.5" y1="714.5" x2="432.5" y2="717.8" stroke="#000" stroke-width="1.2"/>
<text x="432.4" y="728.1" text-anchor="middle" font-size="11" font-weight="700">Ix</text>
<line x1="465.5" y1="714.5" x2="465.5" y2="717.8" stroke="#000" stroke-width="1.2"/>
<text x="465.9" y="728.1" text-anchor="middle" font-size="11" font-weight="700">Hx</text>
<line x1="499.5" y1="714.5" x2="499.5" y2="717.8" stroke="#000" stroke-width="1.2"/>
<text x="499.4" y="728.1" text-anchor="middle" font-size="11" font-weight="700">Hxh</text>
<text transform="translate(285.5 630.2) rotate(-90)" text-anchor="middle" font-size="12.6" font-weight="700">Absolute count (cell/µl)</text>
<text x="414.0" y="545.5" text-anchor="middle" font-size="12.3" font-weight="700">NK cells</text>
<path d="M368.0 569.5C369.0 565.5 372.0 565.5 376.0 565.5H410.9C413.9 565.5 415.4 564.5 415.9 562.5C416.4 564.5 417.9 565.5 420.9 565.5H455.7C459.7 565.5 462.7 565.5 463.7 569.5" fill="none" stroke="#555" stroke-width="0.8"/>
<text x="415.9" y="564.5" text-anchor="middle" font-size="10.5" font-weight="700">***</text>
<path d="M393.4 750.5L465.8 735.5H497.4V750.5Z" fill="#000"/>
<text x="477.7" y="746.9" text-anchor="middle" font-size="10.9" font-weight="700" fill="#fff" class="w">CD4</text>
<text x="333.9" y="763.9" text-anchor="middle" font-size="12.6" font-weight="700">HIV-</text>
<text x="365.7" y="763.9" text-anchor="middle" font-size="12.6" font-weight="700">HIV+</text>
<text x="447.6" y="763.9" text-anchor="middle" font-size="12.6" font-weight="700">HIV+ Tx+</text>
<line x1="321.1" y1="673.5" x2="343.7" y2="673.5" stroke="#000" stroke-width="1.2"/>
<circle cx="337.6" cy="632.4" r="2.8" fill="#8c8c8c" stroke="#1c1c1c" stroke-width="1.2"/><circle cx="333.0" cy="635.0" r="2.8" fill="#8c8c8c" stroke="#1c1c1c" stroke-width="1.2"/><circle cx="333.0" cy="645.6" r="2.8" fill="#8c8c8c" stroke="#1c1c1c" stroke-width="1.2"/><circle cx="337.6" cy="655.6" r="2.8" fill="#8c8c8c" stroke="#1c1c1c" stroke-width="1.2"/><circle cx="333.0" cy="657.0" r="2.8" fill="#8c8c8c" stroke="#1c1c1c" stroke-width="1.2"/><circle cx="328.6" cy="663.6" r="2.8" fill="#8c8c8c" stroke="#1c1c1c" stroke-width="1.2"/><circle cx="323.6" cy="667.0" r="2.8" fill="#8c8c8c" stroke="#1c1c1c" stroke-width="1.2"/><circle cx="337.6" cy="665.6" r="2.8" fill="#8c8c8c" stroke="#1c1c1c" stroke-width="1.2"/><circle cx="333.0" cy="669.0" r="2.8" fill="#8c8c8c" stroke="#1c1c1c" stroke-width="1.2"/><circle cx="328.6" cy="671.6" r="2.8" fill="#8c8c8c" stroke="#1c1c1c" stroke-width="1.2"/><circle cx="335.6" cy="671.6" r="2.8" fill="#8c8c8c" stroke="#1c1c1c" stroke-width="1.2"/><circle cx="337.6" cy="676.6" r="2.8" fill="#8c8c8c" stroke="#1c1c1c" stroke-width="1.2"/><circle cx="333.0" cy="679.0" r="2.8" fill="#8c8c8c" stroke="#1c1c1c" stroke-width="1.2"/><circle cx="335.0" cy="683.6" r="2.8" fill="#8c8c8c" stroke="#1c1c1c" stroke-width="1.2"/><circle cx="328.6" cy="685.6" r="2.8" fill="#8c8c8c" stroke="#1c1c1c" stroke-width="1.2"/><circle cx="331.0" cy="685.6" r="2.8" fill="#8c8c8c" stroke="#1c1c1c" stroke-width="1.2"/><circle cx="337.6" cy="687.0" r="2.8" fill="#8c8c8c" stroke="#1c1c1c" stroke-width="1.2"/><circle cx="323.6" cy="688.6" r="2.8" fill="#8c8c8c" stroke="#1c1c1c" stroke-width="1.2"/><circle cx="333.0" cy="689.0" r="2.8" fill="#8c8c8c" stroke="#1c1c1c" stroke-width="1.2"/><circle cx="333.0" cy="707.6" r="2.8" fill="#8c8c8c" stroke="#1c1c1c" stroke-width="1.2"/><circle cx="337.6" cy="706.4" r="2.8" fill="#8c8c8c" stroke="#1c1c1c" stroke-width="1.2"/>
<line x1="354.6" y1="704.5" x2="377.2" y2="704.5" stroke="#000" stroke-width="1.2"/>
<path d="M366.0 634.2L368.8 637.0L366.0 639.8L363.2 637.0Z" fill="none" stroke="#000" stroke-width="1.35"/><path d="M366.0 675.9L368.8 678.6L366.0 681.4L363.2 678.6Z" fill="none" stroke="#000" stroke-width="1.35"/><path d="M361.6 687.2L364.4 690.0L361.6 692.8L358.9 690.0Z" fill="none" stroke="#000" stroke-width="1.35"/><path d="M366.6 689.6L369.4 692.4L366.6 695.1L363.9 692.4Z" fill="none" stroke="#000" stroke-width="1.35"/><path d="M371.0 689.6L373.8 692.4L371.0 695.1L368.2 692.4Z" fill="none" stroke="#000" stroke-width="1.35"/><path d="M362.0 693.2L364.8 696.0L362.0 698.8L359.2 696.0Z" fill="none" stroke="#000" stroke-width="1.35"/><path d="M369.0 692.9L371.8 695.6L369.0 698.4L366.2 695.6Z" fill="none" stroke="#000" stroke-width="1.35"/><path d="M357.0 695.9L359.8 698.6L357.0 701.4L354.2 698.6Z" fill="none" stroke="#000" stroke-width="1.35"/><path d="M371.0 695.9L373.8 698.6L371.0 701.4L368.2 698.6Z" fill="none" stroke="#000" stroke-width="1.35"/><path d="M366.0 699.2L368.8 702.0L366.0 704.8L363.2 702.0Z" fill="none" stroke="#000" stroke-width="1.35"/><path d="M366.0 701.6L368.8 704.4L366.0 707.1L363.2 704.4Z" fill="none" stroke="#000" stroke-width="1.35"/><path d="M366.0 704.2L368.8 707.0L366.0 709.8L363.2 707.0Z" fill="none" stroke="#000" stroke-width="1.35"/><path d="M364.0 706.9L366.8 709.6L364.0 712.4L361.2 709.6Z" fill="none" stroke="#000" stroke-width="1.35"/><path d="M368.4 706.9L371.1 709.6L368.4 712.4L365.6 709.6Z" fill="none" stroke="#000" stroke-width="1.35"/><path d="M361.6 709.6L364.4 712.4L361.6 715.1L358.9 712.4Z" fill="none" stroke="#000" stroke-width="1.35"/><path d="M366.0 710.2L368.8 713.0L366.0 715.8L363.2 713.0Z" fill="none" stroke="#000" stroke-width="1.35"/><path d="M371.0 710.2L373.8 713.0L371.0 715.8L368.2 713.0Z" fill="none" stroke="#000" stroke-width="1.35"/>
<line x1="387.6" y1="699.5" x2="410.2" y2="699.5" stroke="#000" stroke-width="1.2"/>
<path d="M387.1 672.6L392.9 672.6L390.0 678.2Z" fill="none" stroke="#000" stroke-width="1.25"/><path d="M396.5 673.4L402.2 673.4L399.4 679.0Z" fill="none" stroke="#000" stroke-width="1.25"/><path d="M397.1 687.4L402.9 687.4L400.0 693.0Z" fill="none" stroke="#000" stroke-width="1.25"/><path d="M387.8 695.0L393.5 695.0L390.6 700.6Z" fill="none" stroke="#000" stroke-width="1.25"/><path d="M392.1 694.0L397.9 694.0L395.0 699.6Z" fill="none" stroke="#000" stroke-width="1.25"/><path d="M396.5 695.4L402.2 695.4L399.4 701.0Z" fill="none" stroke="#000" stroke-width="1.25"/><path d="M401.1 695.0L406.9 695.0L404.0 700.6Z" fill="none" stroke="#000" stroke-width="1.25"/><path d="M390.1 698.0L395.9 698.0L393.0 703.6Z" fill="none" stroke="#000" stroke-width="1.25"/><path d="M398.8 698.0L404.5 698.0L401.6 703.6Z" fill="none" stroke="#000" stroke-width="1.25"/><path d="M394.5 701.0L400.2 701.0L397.4 706.6Z" fill="none" stroke="#000" stroke-width="1.25"/><path d="M392.1 702.0L397.9 702.0L395.0 707.6Z" fill="none" stroke="#000" stroke-width="1.25"/><path d="M401.1 704.0L406.9 704.0L404.0 709.6Z" fill="none" stroke="#000" stroke-width="1.25"/><path d="M396.5 708.0L402.2 708.0L399.4 713.6Z" fill="none" stroke="#000" stroke-width="1.25"/>
<line x1="421.1" y1="678.5" x2="443.7" y2="678.5" stroke="#000" stroke-width="1.2"/>
<path d="M430.1 580.6L435.9 580.6L433.0 586.2Z" fill="#949494" stroke="#000" stroke-width="1.25"/><path d="M430.1 599.4L435.9 599.4L433.0 605.0Z" fill="#949494" stroke="#000" stroke-width="1.25"/><path d="M434.8 604.0L440.5 604.0L437.6 609.6Z" fill="#949494" stroke="#000" stroke-width="1.25"/><path d="M430.1 609.4L435.9 609.4L433.0 615.0Z" fill="#949494" stroke="#000" stroke-width="1.25"/><path d="M430.1 625.0L435.9 625.0L433.0 630.6Z" fill="#949494" stroke="#000" stroke-width="1.25"/><path d="M430.1 635.6L435.9 635.6L433.0 641.2Z" fill="#949494" stroke="#000" stroke-width="1.25"/><path d="M420.8 646.0L426.5 646.0L423.6 651.6Z" fill="#949494" stroke="#000" stroke-width="1.25"/><path d="M425.8 648.0L431.5 648.0L428.6 653.6Z" fill="#949494" stroke="#000" stroke-width="1.25"/><path d="M430.1 647.0L435.9 647.0L433.0 652.6Z" fill="#949494" stroke="#000" stroke-width="1.25"/><path d="M434.8 648.6L440.5 648.6L437.6 654.2Z" fill="#949494" stroke="#000" stroke-width="1.25"/><path d="M430.1 656.6L435.9 656.6L433.0 662.2Z" fill="#949494" stroke="#000" stroke-width="1.25"/><path d="M430.1 670.6L435.9 670.6L433.0 676.2Z" fill="#949494" stroke="#000" stroke-width="1.25"/><path d="M425.8 678.0L431.5 678.0L428.6 683.6Z" fill="#949494" stroke="#000" stroke-width="1.25"/><path d="M434.8 680.6L440.5 680.6L437.6 686.2Z" fill="#949494" stroke="#000" stroke-width="1.25"/><path d="M430.1 683.0L435.9 683.0L433.0 688.6Z" fill="#949494" stroke="#000" stroke-width="1.25"/><path d="M428.1 686.6L433.9 686.6L431.0 692.2Z" fill="#949494" stroke="#000" stroke-width="1.25"/><path d="M425.8 689.4L431.5 689.4L428.6 695.0Z" fill="#949494" stroke="#000" stroke-width="1.25"/><path d="M430.1 690.0L435.9 690.0L433.0 695.6Z" fill="#949494" stroke="#000" stroke-width="1.25"/><path d="M432.8 690.0L438.5 690.0L435.6 695.6Z" fill="#949494" stroke="#000" stroke-width="1.25"/><path d="M420.8 693.4L426.5 693.4L423.6 699.0Z" fill="#949494" stroke="#000" stroke-width="1.25"/><path d="M434.8 692.0L440.5 692.0L437.6 697.6Z" fill="#949494" stroke="#000" stroke-width="1.25"/><path d="M428.1 692.6L433.9 692.6L431.0 698.2Z" fill="#949494" stroke="#000" stroke-width="1.25"/><path d="M430.1 695.4L435.9 695.4L433.0 701.0Z" fill="#949494" stroke="#000" stroke-width="1.25"/><path d="M430.1 704.6L435.9 704.6L433.0 710.2Z" fill="#949494" stroke="#000" stroke-width="1.25"/>
<line x1="454.6" y1="656.5" x2="477.2" y2="656.5" stroke="#000" stroke-width="1.2"/>
<path d="M463.0 569.9L469.8 569.9L466.4 576.3Z" fill="#000"/><path d="M453.6 577.9L460.4 577.9L457.0 584.3Z" fill="#000"/><path d="M463.0 579.3L469.8 579.3L466.4 585.7Z" fill="#000"/><path d="M463.0 604.9L469.8 604.9L466.4 611.3Z" fill="#000"/><path d="M463.0 636.7L469.8 636.7L466.4 643.1Z" fill="#000"/><path d="M467.2 644.5L474.0 644.5L470.6 650.9Z" fill="#000"/><path d="M463.0 648.5L469.8 648.5L466.4 654.9Z" fill="#000"/><path d="M463.0 657.9L469.8 657.9L466.4 664.3Z" fill="#000"/><path d="M467.2 666.9L474.0 666.9L470.6 673.3Z" fill="#000"/><path d="M463.0 675.9L469.8 675.9L466.4 682.3Z" fill="#000"/><path d="M453.6 682.9L460.4 682.9L457.0 689.3Z" fill="#000"/><path d="M467.2 682.5L474.0 682.5L470.6 688.9Z" fill="#000"/><path d="M463.0 687.3L469.8 687.3L466.4 693.7Z" fill="#000"/><path d="M463.0 701.5L469.8 701.5L466.4 707.9Z" fill="#000"/>
<line x1="488.1" y1="667.5" x2="510.7" y2="667.5" stroke="#000" stroke-width="1.2"/>
<path d="M486.6 592.5L493.4 592.5L490.0 586.1Z" fill="#000"/><path d="M496.0 596.1L502.8 596.1L499.4 589.7Z" fill="#000"/><path d="M496.0 623.7L502.8 623.7L499.4 617.3Z" fill="#000"/><path d="M496.0 648.1L502.8 648.1L499.4 641.7Z" fill="#000"/><path d="M500.6 654.1L507.4 654.1L504.0 647.7Z" fill="#000"/><path d="M496.0 661.1L502.8 661.1L499.4 654.7Z" fill="#000"/><path d="M493.6 665.1L500.4 665.1L497.0 658.7Z" fill="#000"/><path d="M498.2 665.7L505.0 665.7L501.6 659.3Z" fill="#000"/><path d="M496.0 668.1L502.8 668.1L499.4 661.7Z" fill="#000"/><path d="M500.6 668.1L507.4 668.1L504.0 661.7Z" fill="#000"/><path d="M486.6 670.1L493.4 670.1L490.0 663.7Z" fill="#000"/><path d="M491.6 675.5L498.4 675.5L495.0 669.1Z" fill="#000"/><path d="M496.0 681.1L502.8 681.1L499.4 674.7Z" fill="#000"/><path d="M500.6 680.7L507.4 680.7L504.0 674.3Z" fill="#000"/><path d="M486.6 682.7L493.4 682.7L490.0 676.3Z" fill="#000"/><path d="M496.0 691.7L502.8 691.7L499.4 685.3Z" fill="#000"/><path d="M496.0 697.1L502.8 697.1L499.4 690.7Z" fill="#000"/><path d="M493.6 698.7L500.4 698.7L497.0 692.3Z" fill="#000"/><path d="M498.6 699.5L505.4 699.5L502.0 693.1Z" fill="#000"/><path d="M491.6 700.7L498.4 700.7L495.0 694.3Z" fill="#000"/><path d="M500.6 703.1L507.4 703.1L504.0 696.7Z" fill="#000"/><path d="M496.0 704.7L502.8 704.7L499.4 698.3Z" fill="#000"/>
</svg></body></html>
